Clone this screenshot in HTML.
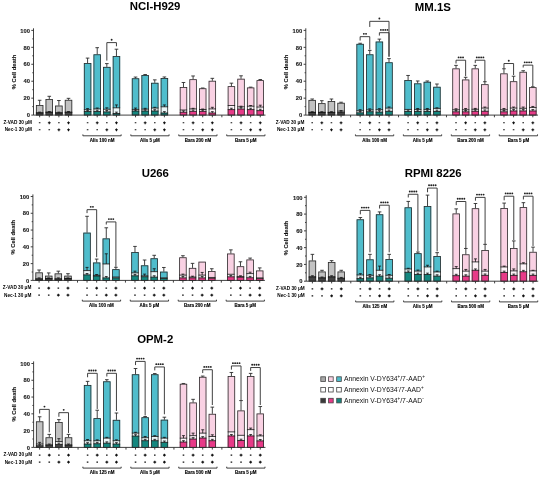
<!DOCTYPE html><html><head><meta charset="utf-8"><style>html,body{margin:0;padding:0;background:#fff;width:550px;height:478px;overflow:hidden}svg{display:block;will-change:transform;filter:blur(0.3px)}text{font-family:"Liberation Sans",sans-serif}</style></head><body>
<svg width="550" height="478" viewBox="0 0 550 478">
<rect width="550" height="478" fill="#fff"/>
<text x="155.1" y="10.37" font-size="11.4" font-weight="bold" text-anchor="middle">NCI-H929</text>
<text transform="translate(15.7,72) rotate(-90)" font-size="5.8" font-weight="bold" fill="#111" stroke="#111" stroke-width="0.1" text-anchor="middle">% Cell death</text>
<text x="29.9" y="117.3" font-size="5.8" font-weight="bold" fill="#1a1a1a" stroke="#1a1a1a" stroke-width="0.12" text-anchor="end">0</text>
<text x="29.9" y="100.36" font-size="5.8" font-weight="bold" fill="#1a1a1a" stroke="#1a1a1a" stroke-width="0.12" text-anchor="end">20</text>
<text x="29.9" y="83.42" font-size="5.8" font-weight="bold" fill="#1a1a1a" stroke="#1a1a1a" stroke-width="0.12" text-anchor="end">40</text>
<text x="29.9" y="66.48" font-size="5.8" font-weight="bold" fill="#1a1a1a" stroke="#1a1a1a" stroke-width="0.12" text-anchor="end">60</text>
<text x="29.9" y="49.54" font-size="5.8" font-weight="bold" fill="#1a1a1a" stroke="#1a1a1a" stroke-width="0.12" text-anchor="end">80</text>
<text x="29.9" y="32.6" font-size="5.8" font-weight="bold" fill="#1a1a1a" stroke="#1a1a1a" stroke-width="0.12" text-anchor="end">100</text>
<rect x="35.95" y="105.11" width="7.4" height="7.62" fill="#c2c2c2"/>
<rect x="35.95" y="112.73" width="7.4" height="0.25" fill="#f2f2f2"/>
<rect x="35.95" y="112.98" width="7.4" height="2.12" fill="#444444"/>
<rect x="36.35" y="105.51" width="6.6" height="9.59" fill="none" stroke="#2b2b2b" stroke-width="0.8"/>
<rect x="45.57" y="99.01" width="7.4" height="13.13" fill="#c2c2c2"/>
<rect x="45.57" y="112.14" width="7.4" height="0.25" fill="#f2f2f2"/>
<rect x="45.57" y="112.39" width="7.4" height="2.71" fill="#444444"/>
<rect x="45.97" y="99.41" width="6.6" height="15.69" fill="none" stroke="#2b2b2b" stroke-width="0.8"/>
<rect x="55.19" y="105.61" width="7.4" height="7.11" fill="#c2c2c2"/>
<rect x="55.19" y="112.73" width="7.4" height="0.25" fill="#f2f2f2"/>
<rect x="55.19" y="112.98" width="7.4" height="2.12" fill="#444444"/>
<rect x="55.59" y="106.01" width="6.6" height="9.09" fill="none" stroke="#2b2b2b" stroke-width="0.8"/>
<rect x="64.81" y="99.85" width="7.4" height="12.28" fill="#c2c2c2"/>
<rect x="64.81" y="112.14" width="7.4" height="0.25" fill="#f2f2f2"/>
<rect x="64.81" y="112.39" width="7.4" height="2.71" fill="#444444"/>
<rect x="65.21" y="100.25" width="6.6" height="14.85" fill="none" stroke="#2b2b2b" stroke-width="0.8"/>
<rect x="83.89" y="63.09" width="7.4" height="46.58" fill="#4fbdcc"/>
<rect x="83.89" y="109.68" width="7.4" height="1.86" fill="#e9f6f8"/>
<rect x="83.89" y="111.54" width="7.4" height="3.56" fill="#14877f"/>
<rect x="84.29" y="63.49" width="6.6" height="51.61" fill="none" stroke="#2b2b2b" stroke-width="0.8"/>
<rect x="93.51" y="54.37" width="7.4" height="54.55" fill="#4fbdcc"/>
<rect x="93.51" y="108.92" width="7.4" height="2.63" fill="#e9f6f8"/>
<rect x="93.51" y="111.54" width="7.4" height="3.56" fill="#14877f"/>
<rect x="93.91" y="54.77" width="6.6" height="60.33" fill="none" stroke="#2b2b2b" stroke-width="0.8"/>
<rect x="103.13" y="66.91" width="7.4" height="42.35" fill="#4fbdcc"/>
<rect x="103.13" y="109.26" width="7.4" height="2.63" fill="#e9f6f8"/>
<rect x="103.13" y="111.88" width="7.4" height="3.22" fill="#14877f"/>
<rect x="103.53" y="67.31" width="6.6" height="47.79" fill="none" stroke="#2b2b2b" stroke-width="0.8"/>
<rect x="112.75" y="56.06" width="7.4" height="51.75" fill="#4fbdcc"/>
<rect x="112.75" y="107.82" width="7.4" height="5.67" fill="#e9f6f8"/>
<rect x="112.75" y="113.49" width="7.4" height="1.61" fill="#14877f"/>
<rect x="113.15" y="56.46" width="6.6" height="58.64" fill="none" stroke="#2b2b2b" stroke-width="0.8"/>
<rect x="131.83" y="78.34" width="7.4" height="31.08" fill="#4fbdcc"/>
<rect x="131.83" y="109.43" width="7.4" height="1.61" fill="#e9f6f8"/>
<rect x="131.83" y="111.03" width="7.4" height="4.07" fill="#14877f"/>
<rect x="132.23" y="78.74" width="6.6" height="36.36" fill="none" stroke="#2b2b2b" stroke-width="0.8"/>
<rect x="141.45" y="75.12" width="7.4" height="34.05" fill="#4fbdcc"/>
<rect x="141.45" y="109.17" width="7.4" height="1.86" fill="#e9f6f8"/>
<rect x="141.45" y="111.03" width="7.4" height="4.07" fill="#14877f"/>
<rect x="141.85" y="75.52" width="6.6" height="39.58" fill="none" stroke="#2b2b2b" stroke-width="0.8"/>
<rect x="151.07" y="82.83" width="7.4" height="25.24" fill="#4fbdcc"/>
<rect x="151.07" y="108.07" width="7.4" height="2.96" fill="#e9f6f8"/>
<rect x="151.07" y="111.03" width="7.4" height="4.07" fill="#14877f"/>
<rect x="151.47" y="83.23" width="6.6" height="31.87" fill="none" stroke="#2b2b2b" stroke-width="0.8"/>
<rect x="160.69" y="78" width="7.4" height="28.8" fill="#4fbdcc"/>
<rect x="160.69" y="106.8" width="7.4" height="6.18" fill="#e9f6f8"/>
<rect x="160.69" y="112.98" width="7.4" height="2.12" fill="#14877f"/>
<rect x="161.09" y="78.4" width="6.6" height="36.7" fill="none" stroke="#2b2b2b" stroke-width="0.8"/>
<rect x="179.77" y="87.06" width="7.4" height="22.95" fill="#f9d1e3"/>
<rect x="179.77" y="110.02" width="7.4" height="2.2" fill="#fdf3f8"/>
<rect x="179.77" y="112.22" width="7.4" height="2.88" fill="#e73a88"/>
<rect x="180.17" y="87.46" width="6.6" height="27.64" fill="none" stroke="#2b2b2b" stroke-width="0.8"/>
<rect x="189.39" y="79.27" width="7.4" height="29.64" fill="#f9d1e3"/>
<rect x="189.39" y="108.92" width="7.4" height="2.46" fill="#fdf3f8"/>
<rect x="189.39" y="111.37" width="7.4" height="3.73" fill="#e73a88"/>
<rect x="189.79" y="79.67" width="6.6" height="35.43" fill="none" stroke="#2b2b2b" stroke-width="0.8"/>
<rect x="199.01" y="88.33" width="7.4" height="21.17" fill="#f9d1e3"/>
<rect x="199.01" y="109.51" width="7.4" height="1.86" fill="#fdf3f8"/>
<rect x="199.01" y="111.37" width="7.4" height="3.73" fill="#e73a88"/>
<rect x="199.41" y="88.73" width="6.6" height="26.37" fill="none" stroke="#2b2b2b" stroke-width="0.8"/>
<rect x="208.63" y="80.8" width="7.4" height="28.12" fill="#f9d1e3"/>
<rect x="208.63" y="108.92" width="7.4" height="4.07" fill="#fdf3f8"/>
<rect x="208.63" y="112.98" width="7.4" height="2.12" fill="#e73a88"/>
<rect x="209.03" y="81.2" width="6.6" height="33.9" fill="none" stroke="#2b2b2b" stroke-width="0.8"/>
<rect x="227.71" y="86.22" width="7.4" height="19.31" fill="#f9d1e3"/>
<rect x="227.71" y="105.53" width="7.4" height="4.07" fill="#fdf3f8"/>
<rect x="227.71" y="109.59" width="7.4" height="5.51" fill="#e73a88"/>
<rect x="228.11" y="86.62" width="6.6" height="28.48" fill="none" stroke="#2b2b2b" stroke-width="0.8"/>
<rect x="237.33" y="78.76" width="7.4" height="28.04" fill="#f9d1e3"/>
<rect x="237.33" y="106.8" width="7.4" height="2.2" fill="#fdf3f8"/>
<rect x="237.33" y="109" width="7.4" height="6.1" fill="#e73a88"/>
<rect x="237.73" y="79.16" width="6.6" height="35.94" fill="none" stroke="#2b2b2b" stroke-width="0.8"/>
<rect x="246.95" y="87.49" width="7.4" height="18.72" fill="#f9d1e3"/>
<rect x="246.95" y="106.21" width="7.4" height="3.39" fill="#fdf3f8"/>
<rect x="246.95" y="109.59" width="7.4" height="5.51" fill="#e73a88"/>
<rect x="247.35" y="87.89" width="6.6" height="27.21" fill="none" stroke="#2b2b2b" stroke-width="0.8"/>
<rect x="256.57" y="80.2" width="7.4" height="26.85" fill="#f9d1e3"/>
<rect x="256.57" y="107.05" width="7.4" height="3.56" fill="#fdf3f8"/>
<rect x="256.57" y="110.61" width="7.4" height="4.49" fill="#e73a88"/>
<rect x="256.97" y="80.6" width="6.6" height="34.5" fill="none" stroke="#2b2b2b" stroke-width="0.8"/>
<text x="32" y="124" font-size="4.7" font-weight="bold" text-anchor="end">Z-VAD 30 μM</text>
<text x="32" y="131.2" font-size="4.7" font-weight="bold" text-anchor="end">Nec-1 30 μM</text>
<text x="102.02" y="141.5" font-size="4.5" font-weight="bold" stroke="#000" stroke-width="0.12" text-anchor="middle">Alis 100 nM</text>
<text x="149.96" y="141.5" font-size="4.5" font-weight="bold" stroke="#000" stroke-width="0.12" text-anchor="middle">Alis 5 μM</text>
<text x="197.9" y="141.5" font-size="4.5" font-weight="bold" stroke="#000" stroke-width="0.12" text-anchor="middle">Bara 200 nM</text>
<text x="245.84" y="141.5" font-size="4.5" font-weight="bold" stroke="#000" stroke-width="0.12" text-anchor="middle">Bara 5 μM</text>
<circle cx="111.64" cy="39.8" r="0.95" fill="#222"/>
<path d="M33.5 28.3V115.1M31.3 115.1H33.5M32.3 106.63H33.5M31.3 98.16H33.5M32.3 89.69H33.5M31.3 81.22H33.5M32.3 72.75H33.5M31.3 64.28H33.5M32.3 55.81H33.5M31.3 47.34H33.5M32.3 38.87H33.5M31.3 30.4H33.5M221.87 115.1V117.3M33.5 115.1H265.47M39.65 105.11V100.28M37.85 100.28H41.45M39.65 115.1V117.3M49.27 99.01V96.3M47.47 96.3H51.07M49.27 115.1V117.3M58.89 105.61V100.53M57.09 100.53H60.69M58.89 115.1V117.3M68.51 99.85V98.33M66.71 98.33H70.31M68.51 115.1V117.3M87.59 63.09V58.1M85.79 58.1H89.39M87.59 115.1V117.3M97.21 54.37V47.68M95.41 47.68H99.01M97.21 115.1V117.3M106.83 66.91V63.6M105.03 63.6H108.63M106.83 115.1V117.3M116.45 56.06V49.2M114.65 49.2H118.25M116.45 115.1V117.3M135.53 78.34V77.07M133.73 77.07H137.33M135.53 115.1V117.3M145.15 75.12V74.53M143.35 74.53H146.95M145.15 115.1V117.3M154.77 82.83V79.86M152.97 79.86H156.57M154.77 115.1V117.3M164.39 78V76.98M162.59 76.98H166.19M164.39 115.1V117.3M183.47 87.06V82.49M181.67 82.49H185.27M183.47 115.1V117.3M193.09 79.27V75.97M191.29 75.97H194.89M193.09 115.1V117.3M202.71 88.33V88M200.91 88H204.51M202.71 115.1V117.3M212.33 80.8V78.34M210.53 78.34H214.13M212.33 115.1V117.3M231.41 86.22V83.17M229.61 83.17H233.21M231.41 115.1V117.3M241.03 78.76V75.8M239.23 75.8H242.83M241.03 115.1V117.3M250.65 87.49V87.15M248.85 87.15H252.45M250.65 115.1V117.3M260.27 80.2V79.53M258.47 79.53H262.07M260.27 115.1V117.3M82.89 134.4V135.8H121.15V134.4M130.83 134.4V135.8H169.09V134.4M178.77 134.4V135.8H217.03V134.4M226.71 134.4V135.8H264.97V134.4M106.83 60.64V42.6H116.45V46.32" stroke="#2b2b2b" stroke-width="0.9" fill="none"/>
<path d="M35.95 112.73H43.35M35.95 112.98H43.35M39.65 112.73V112.14M38.15 112.14H41.15M45.57 112.14H52.97M45.57 112.39H52.97M49.27 112.14V111.54M47.77 111.54H50.77M55.19 112.73H62.59M55.19 112.98H62.59M58.89 112.73V112.14M57.39 112.14H60.39M64.81 112.14H72.21M64.81 112.39H72.21M68.51 112.14V111.54M67.01 111.54H70.01M83.89 109.68H91.29M83.89 111.54H91.29M87.59 111.54V110.36M86.19 110.36H88.99M87.59 109.68V108.58M86.09 108.58H89.09M93.51 108.92H100.91M93.51 111.54H100.91M97.21 111.54V110.19M95.81 110.19H98.61M97.21 108.92V107.99M95.71 107.99H98.71M103.13 109.26H110.53M103.13 111.88H110.53M106.83 111.88V110.53M105.43 110.53H108.23M106.83 109.26V107.82M105.33 107.82H108.33M112.75 107.82H120.15M112.75 113.49H120.15M116.45 113.49V112.14M115.05 112.14H117.85M116.45 107.82V104.94M114.95 104.94H117.95M131.83 109.43H139.23M131.83 111.03H139.23M135.53 111.03V110.1M134.13 110.1H136.93M135.53 109.43V108.07M134.03 108.07H137.03M141.45 109.17H148.85M141.45 111.03H148.85M145.15 111.03V109.85M143.75 109.85H146.55M145.15 109.17V108.32M143.65 108.32H146.65M151.07 108.07H158.47M151.07 111.03H158.47M154.77 111.03V109.68M153.37 109.68H156.17M154.77 108.07V107.31M153.27 107.31H156.27M160.69 106.8H168.09M160.69 112.98H168.09M164.39 112.98V111.63M162.99 111.63H165.79M164.39 106.8V104.94M162.89 104.94H165.89M179.77 110.02H187.17M179.77 112.22H187.17M183.47 112.22V110.86M182.07 110.86H184.87M189.39 108.92H196.79M189.39 111.37H196.79M193.09 111.37V110.02M191.69 110.02H194.49M193.09 108.92V108.32M191.59 108.32H194.59M199.01 109.51H206.41M199.01 111.37H206.41M202.71 111.37V110.19M201.31 110.19H204.11M202.71 109.51V109M201.21 109H204.21M208.63 108.92H216.03M208.63 112.98H216.03M212.33 112.98V111.63M210.93 111.63H213.73M212.33 108.92V107.31M210.83 107.31H213.83M227.71 105.53H235.11M227.71 109.59H235.11M231.41 109.59V108.24M230.01 108.24H232.81M237.33 106.8H244.73M237.33 109H244.73M241.03 109V107.65M239.63 107.65H242.43M241.03 106.8V106.21M239.53 106.21H242.53M246.95 106.21H254.35M246.95 109.59H254.35M250.65 109.59V108.24M249.25 108.24H252.05M250.65 106.21V105.53M249.15 105.53H252.15M256.57 107.05H263.97M256.57 110.61H263.97M260.27 110.61V109.26M258.87 109.26H261.67M260.27 107.05V105.19M258.77 105.19H261.77" stroke="#111" stroke-width="0.8" fill="none"/>
<path d="M38.85 122.8H40.45M38.85 129.8H40.45M47.87 122.8H50.67M49.27 121.4V124.2M48.47 129.8H50.07M58.09 122.8H59.69M57.49 129.8H60.29M58.89 128.4V131.2M67.11 122.8H69.91M68.51 121.4V124.2M67.11 129.8H69.91M68.51 128.4V131.2M86.79 122.8H88.39M86.79 129.8H88.39M95.81 122.8H98.61M97.21 121.4V124.2M96.41 129.8H98.01M106.03 122.8H107.63M105.43 129.8H108.23M106.83 128.4V131.2M115.05 122.8H117.85M116.45 121.4V124.2M115.05 129.8H117.85M116.45 128.4V131.2M134.73 122.8H136.33M134.73 129.8H136.33M143.75 122.8H146.55M145.15 121.4V124.2M144.35 129.8H145.95M153.97 122.8H155.57M153.37 129.8H156.17M154.77 128.4V131.2M162.99 122.8H165.79M164.39 121.4V124.2M162.99 129.8H165.79M164.39 128.4V131.2M182.67 122.8H184.27M182.67 129.8H184.27M191.69 122.8H194.49M193.09 121.4V124.2M192.29 129.8H193.89M201.91 122.8H203.51M201.31 129.8H204.11M202.71 128.4V131.2M210.93 122.8H213.73M212.33 121.4V124.2M210.93 129.8H213.73M212.33 128.4V131.2M230.61 122.8H232.21M230.61 129.8H232.21M239.63 122.8H242.43M241.03 121.4V124.2M240.23 129.8H241.83M249.85 122.8H251.45M249.25 129.8H252.05M250.65 128.4V131.2M258.87 122.8H261.67M260.27 121.4V124.2M258.87 129.8H261.67M260.27 128.4V131.2" stroke="#111" stroke-width="1.1" fill="none"/>
<text x="432.9" y="10.57" font-size="11.4" font-weight="bold" text-anchor="middle">MM.1S</text>
<text transform="translate(288,72) rotate(-90)" font-size="5.8" font-weight="bold" fill="#111" stroke="#111" stroke-width="0.1" text-anchor="middle">% Cell death</text>
<text x="302.2" y="117.3" font-size="5.8" font-weight="bold" fill="#1a1a1a" stroke="#1a1a1a" stroke-width="0.12" text-anchor="end">0</text>
<text x="302.2" y="100.36" font-size="5.8" font-weight="bold" fill="#1a1a1a" stroke="#1a1a1a" stroke-width="0.12" text-anchor="end">20</text>
<text x="302.2" y="83.42" font-size="5.8" font-weight="bold" fill="#1a1a1a" stroke="#1a1a1a" stroke-width="0.12" text-anchor="end">40</text>
<text x="302.2" y="66.48" font-size="5.8" font-weight="bold" fill="#1a1a1a" stroke="#1a1a1a" stroke-width="0.12" text-anchor="end">60</text>
<text x="302.2" y="49.54" font-size="5.8" font-weight="bold" fill="#1a1a1a" stroke="#1a1a1a" stroke-width="0.12" text-anchor="end">80</text>
<text x="302.2" y="32.6" font-size="5.8" font-weight="bold" fill="#1a1a1a" stroke="#1a1a1a" stroke-width="0.12" text-anchor="end">100</text>
<rect x="308.5" y="99.94" width="7.4" height="12.37" fill="#c2c2c2"/>
<rect x="308.5" y="112.3" width="7.4" height="0.25" fill="#f2f2f2"/>
<rect x="308.5" y="112.56" width="7.4" height="2.54" fill="#444444"/>
<rect x="308.9" y="100.34" width="6.6" height="14.76" fill="none" stroke="#2b2b2b" stroke-width="0.8"/>
<rect x="318.12" y="103.24" width="7.4" height="9.06" fill="#c2c2c2"/>
<rect x="318.12" y="112.3" width="7.4" height="0.25" fill="#f2f2f2"/>
<rect x="318.12" y="112.56" width="7.4" height="2.54" fill="#444444"/>
<rect x="318.52" y="103.64" width="6.6" height="11.46" fill="none" stroke="#2b2b2b" stroke-width="0.8"/>
<rect x="327.74" y="101.12" width="7.4" height="11.18" fill="#c2c2c2"/>
<rect x="327.74" y="112.3" width="7.4" height="0.25" fill="#f2f2f2"/>
<rect x="327.74" y="112.56" width="7.4" height="2.54" fill="#444444"/>
<rect x="328.14" y="101.52" width="6.6" height="13.58" fill="none" stroke="#2b2b2b" stroke-width="0.8"/>
<rect x="337.36" y="102.82" width="7.4" height="8.39" fill="#c2c2c2"/>
<rect x="337.36" y="111.2" width="7.4" height="1.36" fill="#f2f2f2"/>
<rect x="337.36" y="112.56" width="7.4" height="2.54" fill="#444444"/>
<rect x="337.76" y="103.22" width="6.6" height="11.88" fill="none" stroke="#2b2b2b" stroke-width="0.8"/>
<rect x="356.44" y="43.87" width="7.4" height="66.83" fill="#4fbdcc"/>
<rect x="356.44" y="110.7" width="7.4" height="2.12" fill="#e9f6f8"/>
<rect x="356.44" y="112.81" width="7.4" height="2.29" fill="#14877f"/>
<rect x="356.84" y="44.27" width="6.6" height="70.83" fill="none" stroke="#2b2b2b" stroke-width="0.8"/>
<rect x="366.06" y="54.37" width="7.4" height="55.48" fill="#4fbdcc"/>
<rect x="366.06" y="109.85" width="7.4" height="1.86" fill="#e9f6f8"/>
<rect x="366.06" y="111.71" width="7.4" height="3.39" fill="#14877f"/>
<rect x="366.46" y="54.77" width="6.6" height="60.33" fill="none" stroke="#2b2b2b" stroke-width="0.8"/>
<rect x="375.68" y="41.58" width="7.4" height="68.1" fill="#4fbdcc"/>
<rect x="375.68" y="109.68" width="7.4" height="2.37" fill="#e9f6f8"/>
<rect x="375.68" y="112.05" width="7.4" height="3.05" fill="#14877f"/>
<rect x="376.08" y="41.98" width="6.6" height="73.12" fill="none" stroke="#2b2b2b" stroke-width="0.8"/>
<rect x="385.3" y="62.33" width="7.4" height="45.82" fill="#4fbdcc"/>
<rect x="385.3" y="108.15" width="7.4" height="3.22" fill="#e9f6f8"/>
<rect x="385.3" y="111.37" width="7.4" height="3.73" fill="#14877f"/>
<rect x="385.7" y="62.73" width="6.6" height="52.37" fill="none" stroke="#2b2b2b" stroke-width="0.8"/>
<rect x="404.38" y="80.12" width="7.4" height="29.31" fill="#4fbdcc"/>
<rect x="404.38" y="109.43" width="7.4" height="2.03" fill="#e9f6f8"/>
<rect x="404.38" y="111.46" width="7.4" height="3.64" fill="#14877f"/>
<rect x="404.78" y="80.52" width="6.6" height="34.58" fill="none" stroke="#2b2b2b" stroke-width="0.8"/>
<rect x="414" y="83.42" width="7.4" height="26" fill="#4fbdcc"/>
<rect x="414" y="109.43" width="7.4" height="2.03" fill="#e9f6f8"/>
<rect x="414" y="111.46" width="7.4" height="3.64" fill="#14877f"/>
<rect x="414.4" y="83.82" width="6.6" height="31.28" fill="none" stroke="#2b2b2b" stroke-width="0.8"/>
<rect x="423.62" y="81.81" width="7.4" height="27.61" fill="#4fbdcc"/>
<rect x="423.62" y="109.43" width="7.4" height="2.03" fill="#e9f6f8"/>
<rect x="423.62" y="111.46" width="7.4" height="3.64" fill="#14877f"/>
<rect x="424.02" y="82.21" width="6.6" height="32.89" fill="none" stroke="#2b2b2b" stroke-width="0.8"/>
<rect x="433.24" y="86.81" width="7.4" height="21.6" fill="#4fbdcc"/>
<rect x="433.24" y="108.41" width="7.4" height="3.05" fill="#e9f6f8"/>
<rect x="433.24" y="111.46" width="7.4" height="3.64" fill="#14877f"/>
<rect x="433.64" y="87.21" width="6.6" height="27.89" fill="none" stroke="#2b2b2b" stroke-width="0.8"/>
<rect x="452.32" y="68.43" width="7.4" height="41.33" fill="#f9d1e3"/>
<rect x="452.32" y="109.76" width="7.4" height="2.03" fill="#fdf3f8"/>
<rect x="452.32" y="111.8" width="7.4" height="3.3" fill="#e73a88"/>
<rect x="452.72" y="68.83" width="6.6" height="46.27" fill="none" stroke="#2b2b2b" stroke-width="0.8"/>
<rect x="461.94" y="79.53" width="7.4" height="30.24" fill="#f9d1e3"/>
<rect x="461.94" y="109.76" width="7.4" height="2.03" fill="#fdf3f8"/>
<rect x="461.94" y="111.8" width="7.4" height="3.3" fill="#e73a88"/>
<rect x="462.34" y="79.93" width="6.6" height="35.17" fill="none" stroke="#2b2b2b" stroke-width="0.8"/>
<rect x="471.56" y="68.43" width="7.4" height="40.83" fill="#f9d1e3"/>
<rect x="471.56" y="109.26" width="7.4" height="2.03" fill="#fdf3f8"/>
<rect x="471.56" y="111.29" width="7.4" height="3.81" fill="#e73a88"/>
<rect x="471.96" y="68.83" width="6.6" height="46.27" fill="none" stroke="#2b2b2b" stroke-width="0.8"/>
<rect x="481.18" y="84.27" width="7.4" height="23.8" fill="#f9d1e3"/>
<rect x="481.18" y="108.07" width="7.4" height="3.22" fill="#fdf3f8"/>
<rect x="481.18" y="111.29" width="7.4" height="3.81" fill="#e73a88"/>
<rect x="481.58" y="84.67" width="6.6" height="30.43" fill="none" stroke="#2b2b2b" stroke-width="0.8"/>
<rect x="500.26" y="73.43" width="7.4" height="36.34" fill="#f9d1e3"/>
<rect x="500.26" y="109.76" width="7.4" height="2.03" fill="#fdf3f8"/>
<rect x="500.26" y="111.8" width="7.4" height="3.3" fill="#e73a88"/>
<rect x="500.66" y="73.83" width="6.6" height="41.27" fill="none" stroke="#2b2b2b" stroke-width="0.8"/>
<rect x="509.88" y="81.3" width="7.4" height="26.77" fill="#f9d1e3"/>
<rect x="509.88" y="108.07" width="7.4" height="2.88" fill="#fdf3f8"/>
<rect x="509.88" y="110.95" width="7.4" height="4.15" fill="#e73a88"/>
<rect x="510.28" y="81.7" width="6.6" height="33.4" fill="none" stroke="#2b2b2b" stroke-width="0.8"/>
<rect x="519.5" y="71.82" width="7.4" height="36.51" fill="#f9d1e3"/>
<rect x="519.5" y="108.32" width="7.4" height="2.63" fill="#fdf3f8"/>
<rect x="519.5" y="110.95" width="7.4" height="4.15" fill="#e73a88"/>
<rect x="519.9" y="72.22" width="6.6" height="42.88" fill="none" stroke="#2b2b2b" stroke-width="0.8"/>
<rect x="529.12" y="87.23" width="7.4" height="20.33" fill="#f9d1e3"/>
<rect x="529.12" y="107.56" width="7.4" height="3.39" fill="#fdf3f8"/>
<rect x="529.12" y="110.95" width="7.4" height="4.15" fill="#e73a88"/>
<rect x="529.52" y="87.63" width="6.6" height="27.47" fill="none" stroke="#2b2b2b" stroke-width="0.8"/>
<text x="304.3" y="124" font-size="4.7" font-weight="bold" text-anchor="end">Z-VAD 30 μM</text>
<text x="304.3" y="131.2" font-size="4.7" font-weight="bold" text-anchor="end">Nec-1 30 μM</text>
<text x="374.57" y="141.5" font-size="4.5" font-weight="bold" stroke="#000" stroke-width="0.12" text-anchor="middle">Alis 100 nM</text>
<text x="422.51" y="141.5" font-size="4.5" font-weight="bold" stroke="#000" stroke-width="0.12" text-anchor="middle">Alis 5 μM</text>
<text x="470.45" y="141.5" font-size="4.5" font-weight="bold" stroke="#000" stroke-width="0.12" text-anchor="middle">Bara 200 nM</text>
<text x="518.39" y="141.5" font-size="4.5" font-weight="bold" stroke="#000" stroke-width="0.12" text-anchor="middle">Bara 5 μM</text>
<circle cx="363.85" cy="33.87" r="0.95" fill="#222"/>
<circle cx="366.05" cy="33.87" r="0.95" fill="#222"/>
<circle cx="379.38" cy="18.54" r="0.95" fill="#222"/>
<circle cx="380.89" cy="29.89" r="0.95" fill="#222"/>
<circle cx="383.09" cy="29.89" r="0.95" fill="#222"/>
<circle cx="385.29" cy="29.89" r="0.95" fill="#222"/>
<circle cx="387.49" cy="29.89" r="0.95" fill="#222"/>
<circle cx="458.63" cy="57.41" r="0.95" fill="#222"/>
<circle cx="460.83" cy="57.41" r="0.95" fill="#222"/>
<circle cx="463.03" cy="57.41" r="0.95" fill="#222"/>
<circle cx="476.77" cy="57.41" r="0.95" fill="#222"/>
<circle cx="478.97" cy="57.41" r="0.95" fill="#222"/>
<circle cx="481.17" cy="57.41" r="0.95" fill="#222"/>
<circle cx="483.37" cy="57.41" r="0.95" fill="#222"/>
<circle cx="508.77" cy="60.72" r="0.95" fill="#222"/>
<circle cx="524.71" cy="62.33" r="0.95" fill="#222"/>
<circle cx="526.91" cy="62.33" r="0.95" fill="#222"/>
<circle cx="529.11" cy="62.33" r="0.95" fill="#222"/>
<circle cx="531.31" cy="62.33" r="0.95" fill="#222"/>
<path d="M305.8 28.3V115.1M303.6 115.1H305.8M304.6 106.63H305.8M303.6 98.16H305.8M304.6 89.69H305.8M303.6 81.22H305.8M304.6 72.75H305.8M303.6 64.28H305.8M304.6 55.81H305.8M303.6 47.34H305.8M304.6 38.87H305.8M303.6 30.4H305.8M350.6 115.1V117.3M398.54 115.1V117.3M446.48 115.1V117.3M494.42 115.1V117.3M305.8 115.1H538.02M312.2 99.94V99.01M310.4 99.01H314M312.2 115.1V117.3M321.82 103.24V100.7M320.02 100.7H323.62M321.82 115.1V117.3M331.44 101.12V99.01M329.64 99.01H333.24M331.44 115.1V117.3M341.06 102.82V102.23M339.26 102.23H342.86M341.06 115.1V117.3M360.14 43.87V43.27M358.34 43.27H361.94M360.14 115.1V117.3M369.76 54.37V50.39M367.96 50.39H371.56M369.76 115.1V117.3M379.38 41.58V39.12M377.58 39.12H381.18M379.38 115.1V117.3M389 62.33V58.61M387.2 58.61H390.8M389 115.1V117.3M408.08 80.12V75.46M406.28 75.46H409.88M408.08 115.1V117.3M417.7 83.42V80.97M415.9 80.97H419.5M417.7 115.1V117.3M427.32 81.81V80.97M425.52 80.97H429.12M427.32 115.1V117.3M436.94 86.81V84.02M435.14 84.02H438.74M436.94 115.1V117.3M456.02 68.43V65.38M454.22 65.38H457.82M456.02 115.1V117.3M465.64 79.53V77.32M463.84 77.32H467.44M465.64 115.1V117.3M475.26 68.43V65.38M473.46 65.38H477.06M475.26 115.1V117.3M484.88 84.27V81.73M483.08 81.73H486.68M484.88 115.1V117.3M503.96 73.43V68.77M502.16 68.77H505.76M503.96 115.1V117.3M513.58 81.3V76.22M511.78 76.22H515.38M513.58 115.1V117.3M523.2 71.82V70.72M521.4 70.72H525M523.2 115.1V117.3M532.82 87.23V86.81M531.02 86.81H534.62M532.82 115.1V117.3M355.44 134.4V135.8H393.7V134.4M403.38 134.4V135.8H441.64V134.4M451.32 134.4V135.8H489.58V134.4M499.26 134.4V135.8H537.52V134.4M360.14 40.56V36.67H369.76V49.54M369.76 26.93V21.34H389V56.66M379.38 35.57V32.69H389V56.66M456.02 63.52V60.21H465.64V76.22M475.26 63.09V60.21H484.88V81.73M503.96 68.43V63.52H513.58V75.04M523.2 67.5V65.13H532.82V86.47" stroke="#2b2b2b" stroke-width="0.9" fill="none"/>
<path d="M308.5 112.3H315.9M308.5 112.56H315.9M312.2 112.3V111.71M310.7 111.71H313.7M318.12 112.3H325.52M318.12 112.56H325.52M321.82 112.3V111.71M320.32 111.71H323.32M327.74 112.3H335.14M327.74 112.56H335.14M331.44 112.3V111.71M329.94 111.71H332.94M337.36 111.2H344.76M337.36 112.56H344.76M341.06 112.56V111.88M339.66 111.88H342.46M341.06 111.2V110.53M339.56 110.53H342.56M356.44 110.7H363.84M356.44 112.81H363.84M360.14 112.81V111.46M358.74 111.46H361.54M360.14 110.7V109.68M358.64 109.68H361.64M366.06 109.85H373.46M366.06 111.71H373.46M369.76 111.71V110.53M368.36 110.53H371.16M369.76 109.85V108.83M368.26 108.83H371.26M375.68 109.68H383.08M375.68 112.05H383.08M379.38 112.05V110.7M377.98 110.7H380.78M379.38 109.68V108.66M377.88 108.66H380.88M385.3 108.15H392.7M385.3 111.37H392.7M389 111.37V110.02M387.6 110.02H390.4M389 108.15V106.97M387.5 106.97H390.5M404.38 109.43H411.78M404.38 111.46H411.78M408.08 111.46V110.1M406.68 110.1H409.48M414 109.43H421.4M414 111.46H421.4M417.7 111.46V110.1M416.3 110.1H419.1M417.7 109.43V108.49M416.2 108.49H419.2M423.62 109.43H431.02M423.62 111.46H431.02M427.32 111.46V110.1M425.92 110.1H428.72M427.32 109.43V108.49M425.82 108.49H428.82M433.24 108.41H440.64M433.24 111.46H440.64M436.94 111.46V110.1M435.54 110.1H438.34M436.94 108.41V107.82M435.44 107.82H438.44M452.32 109.76H459.72M452.32 111.8H459.72M456.02 111.8V110.44M454.62 110.44H457.42M456.02 109.76V108.75M454.52 108.75H457.52M461.94 109.76H469.34M461.94 111.8H469.34M465.64 111.8V110.44M464.24 110.44H467.04M465.64 109.76V108.49M464.14 108.49H467.14M471.56 109.26H478.96M471.56 111.29H478.96M475.26 111.29V109.93M473.86 109.93H476.66M475.26 109.26V108.41M473.76 108.41H476.76M481.18 108.07H488.58M481.18 111.29H488.58M484.88 111.29V109.93M483.48 109.93H486.28M484.88 108.07V107.05M483.38 107.05H486.38M500.26 109.76H507.66M500.26 111.8H507.66M503.96 111.8V110.44M502.56 110.44H505.36M503.96 109.76V108.49M502.46 108.49H505.46M509.88 108.07H517.28M509.88 110.95H517.28M513.58 110.95V109.59M512.18 109.59H514.98M513.58 108.07V107.05M512.08 107.05H515.08M519.5 108.32H526.9M519.5 110.95H526.9M523.2 110.95V109.59M521.8 109.59H524.6M523.2 108.32V107.05M521.7 107.05H524.7M529.12 107.56H536.52M529.12 110.95H536.52M532.82 110.95V109.59M531.42 109.59H534.22M532.82 107.56V106.46M531.32 106.46H534.32" stroke="#111" stroke-width="0.8" fill="none"/>
<path d="M311.4 122.8H313M311.4 129.8H313M320.42 122.8H323.22M321.82 121.4V124.2M321.02 129.8H322.62M330.64 122.8H332.24M330.04 129.8H332.84M331.44 128.4V131.2M339.66 122.8H342.46M341.06 121.4V124.2M339.66 129.8H342.46M341.06 128.4V131.2M359.34 122.8H360.94M359.34 129.8H360.94M368.36 122.8H371.16M369.76 121.4V124.2M368.96 129.8H370.56M378.58 122.8H380.18M377.98 129.8H380.78M379.38 128.4V131.2M387.6 122.8H390.4M389 121.4V124.2M387.6 129.8H390.4M389 128.4V131.2M407.28 122.8H408.88M407.28 129.8H408.88M416.3 122.8H419.1M417.7 121.4V124.2M416.9 129.8H418.5M426.52 122.8H428.12M425.92 129.8H428.72M427.32 128.4V131.2M435.54 122.8H438.34M436.94 121.4V124.2M435.54 129.8H438.34M436.94 128.4V131.2M455.22 122.8H456.82M455.22 129.8H456.82M464.24 122.8H467.04M465.64 121.4V124.2M464.84 129.8H466.44M474.46 122.8H476.06M473.86 129.8H476.66M475.26 128.4V131.2M483.48 122.8H486.28M484.88 121.4V124.2M483.48 129.8H486.28M484.88 128.4V131.2M503.16 122.8H504.76M503.16 129.8H504.76M512.18 122.8H514.98M513.58 121.4V124.2M512.78 129.8H514.38M522.4 122.8H524M521.8 129.8H524.6M523.2 128.4V131.2M531.42 122.8H534.22M532.82 121.4V124.2M531.42 129.8H534.22M532.82 128.4V131.2" stroke="#111" stroke-width="1.1" fill="none"/>
<text x="155.3" y="176.67" font-size="11.4" font-weight="bold" text-anchor="middle">U266</text>
<text transform="translate(15.1,237.3) rotate(-90)" font-size="5.8" font-weight="bold" fill="#111" stroke="#111" stroke-width="0.1" text-anchor="middle">% Cell death</text>
<text x="29.3" y="282.6" font-size="5.8" font-weight="bold" fill="#1a1a1a" stroke="#1a1a1a" stroke-width="0.12" text-anchor="end">0</text>
<text x="29.3" y="265.82" font-size="5.8" font-weight="bold" fill="#1a1a1a" stroke="#1a1a1a" stroke-width="0.12" text-anchor="end">20</text>
<text x="29.3" y="249.04" font-size="5.8" font-weight="bold" fill="#1a1a1a" stroke="#1a1a1a" stroke-width="0.12" text-anchor="end">40</text>
<text x="29.3" y="232.26" font-size="5.8" font-weight="bold" fill="#1a1a1a" stroke="#1a1a1a" stroke-width="0.12" text-anchor="end">60</text>
<text x="29.3" y="215.48" font-size="5.8" font-weight="bold" fill="#1a1a1a" stroke="#1a1a1a" stroke-width="0.12" text-anchor="end">80</text>
<text x="29.3" y="198.7" font-size="5.8" font-weight="bold" fill="#1a1a1a" stroke="#1a1a1a" stroke-width="0.12" text-anchor="end">100</text>
<rect x="35.4" y="272.43" width="7.4" height="6.29" fill="#c2c2c2"/>
<rect x="35.4" y="278.72" width="7.4" height="0.42" fill="#f2f2f2"/>
<rect x="35.4" y="279.14" width="7.4" height="1.26" fill="#444444"/>
<rect x="35.8" y="272.83" width="6.6" height="7.57" fill="none" stroke="#2b2b2b" stroke-width="0.8"/>
<rect x="45.02" y="275.7" width="7.4" height="2.77" fill="#c2c2c2"/>
<rect x="45.02" y="278.47" width="7.4" height="0.25" fill="#f2f2f2"/>
<rect x="45.02" y="278.72" width="7.4" height="1.68" fill="#444444"/>
<rect x="45.42" y="276.1" width="6.6" height="4.3" fill="none" stroke="#2b2b2b" stroke-width="0.8"/>
<rect x="54.64" y="273.44" width="7.4" height="5.29" fill="#c2c2c2"/>
<rect x="54.64" y="278.72" width="7.4" height="0.42" fill="#f2f2f2"/>
<rect x="54.64" y="279.14" width="7.4" height="1.26" fill="#444444"/>
<rect x="55.04" y="273.84" width="6.6" height="6.56" fill="none" stroke="#2b2b2b" stroke-width="0.8"/>
<rect x="64.26" y="275.7" width="7.4" height="2.77" fill="#c2c2c2"/>
<rect x="64.26" y="278.47" width="7.4" height="0.25" fill="#f2f2f2"/>
<rect x="64.26" y="278.72" width="7.4" height="1.68" fill="#444444"/>
<rect x="64.66" y="276.1" width="6.6" height="4.3" fill="none" stroke="#2b2b2b" stroke-width="0.8"/>
<rect x="83.34" y="232.66" width="7.4" height="37.92" fill="#4fbdcc"/>
<rect x="83.34" y="270.58" width="7.4" height="4.28" fill="#e9f6f8"/>
<rect x="83.34" y="274.86" width="7.4" height="5.54" fill="#14877f"/>
<rect x="83.74" y="233.06" width="6.6" height="47.34" fill="none" stroke="#2b2b2b" stroke-width="0.8"/>
<rect x="92.96" y="262.53" width="7.4" height="12.84" fill="#4fbdcc"/>
<rect x="92.96" y="275.37" width="7.4" height="0.67" fill="#e9f6f8"/>
<rect x="92.96" y="276.04" width="7.4" height="4.36" fill="#14877f"/>
<rect x="93.36" y="262.93" width="6.6" height="17.47" fill="none" stroke="#2b2b2b" stroke-width="0.8"/>
<rect x="102.58" y="238.45" width="7.4" height="25.51" fill="#4fbdcc"/>
<rect x="102.58" y="263.96" width="7.4" height="13.93" fill="#e9f6f8"/>
<rect x="102.58" y="277.88" width="7.4" height="2.52" fill="#14877f"/>
<rect x="102.98" y="238.85" width="6.6" height="41.55" fill="none" stroke="#2b2b2b" stroke-width="0.8"/>
<rect x="112.2" y="269.24" width="7.4" height="7.8" fill="#4fbdcc"/>
<rect x="112.2" y="277.04" width="7.4" height="0.84" fill="#e9f6f8"/>
<rect x="112.2" y="277.88" width="7.4" height="2.52" fill="#14877f"/>
<rect x="112.6" y="269.64" width="6.6" height="10.76" fill="none" stroke="#2b2b2b" stroke-width="0.8"/>
<rect x="131.28" y="252.13" width="7.4" height="20.72" fill="#4fbdcc"/>
<rect x="131.28" y="272.85" width="7.4" height="2.94" fill="#e9f6f8"/>
<rect x="131.28" y="275.79" width="7.4" height="4.61" fill="#14877f"/>
<rect x="131.68" y="252.53" width="6.6" height="27.87" fill="none" stroke="#2b2b2b" stroke-width="0.8"/>
<rect x="140.9" y="265.38" width="7.4" height="10.4" fill="#4fbdcc"/>
<rect x="140.9" y="275.79" width="7.4" height="0.92" fill="#e9f6f8"/>
<rect x="140.9" y="276.71" width="7.4" height="3.69" fill="#14877f"/>
<rect x="141.3" y="265.78" width="6.6" height="14.62" fill="none" stroke="#2b2b2b" stroke-width="0.8"/>
<rect x="150.52" y="258.33" width="7.4" height="13.34" fill="#4fbdcc"/>
<rect x="150.52" y="271.67" width="7.4" height="5.45" fill="#e9f6f8"/>
<rect x="150.52" y="277.13" width="7.4" height="3.27" fill="#14877f"/>
<rect x="150.92" y="258.73" width="6.6" height="21.67" fill="none" stroke="#2b2b2b" stroke-width="0.8"/>
<rect x="160.14" y="271.67" width="7.4" height="6.21" fill="#4fbdcc"/>
<rect x="160.14" y="277.88" width="7.4" height="0.5" fill="#e9f6f8"/>
<rect x="160.14" y="278.39" width="7.4" height="2.01" fill="#14877f"/>
<rect x="160.54" y="272.07" width="6.6" height="8.33" fill="none" stroke="#2b2b2b" stroke-width="0.8"/>
<rect x="179.22" y="257.33" width="7.4" height="17.79" fill="#f9d1e3"/>
<rect x="179.22" y="275.11" width="7.4" height="2.77" fill="#fdf3f8"/>
<rect x="179.22" y="277.88" width="7.4" height="2.52" fill="#e73a88"/>
<rect x="179.62" y="257.73" width="6.6" height="22.67" fill="none" stroke="#2b2b2b" stroke-width="0.8"/>
<rect x="188.84" y="267.9" width="7.4" height="9.15" fill="#f9d1e3"/>
<rect x="188.84" y="277.04" width="7.4" height="0.84" fill="#fdf3f8"/>
<rect x="188.84" y="277.88" width="7.4" height="2.52" fill="#e73a88"/>
<rect x="189.24" y="268.3" width="6.6" height="12.1" fill="none" stroke="#2b2b2b" stroke-width="0.8"/>
<rect x="198.46" y="261.69" width="7.4" height="13.42" fill="#f9d1e3"/>
<rect x="198.46" y="275.11" width="7.4" height="2.77" fill="#fdf3f8"/>
<rect x="198.46" y="277.88" width="7.4" height="2.52" fill="#e73a88"/>
<rect x="198.86" y="262.09" width="6.6" height="18.31" fill="none" stroke="#2b2b2b" stroke-width="0.8"/>
<rect x="208.08" y="271.17" width="7.4" height="6.29" fill="#f9d1e3"/>
<rect x="208.08" y="277.46" width="7.4" height="0.84" fill="#fdf3f8"/>
<rect x="208.08" y="278.3" width="7.4" height="2.1" fill="#e73a88"/>
<rect x="208.48" y="271.57" width="6.6" height="8.83" fill="none" stroke="#2b2b2b" stroke-width="0.8"/>
<rect x="227.16" y="253.55" width="7.4" height="20.72" fill="#f9d1e3"/>
<rect x="227.16" y="274.28" width="7.4" height="2.52" fill="#fdf3f8"/>
<rect x="227.16" y="276.79" width="7.4" height="3.61" fill="#e73a88"/>
<rect x="227.56" y="253.95" width="6.6" height="26.45" fill="none" stroke="#2b2b2b" stroke-width="0.8"/>
<rect x="236.78" y="266.3" width="7.4" height="10.32" fill="#f9d1e3"/>
<rect x="236.78" y="276.62" width="7.4" height="0.59" fill="#fdf3f8"/>
<rect x="236.78" y="277.21" width="7.4" height="3.19" fill="#e73a88"/>
<rect x="237.18" y="266.7" width="6.6" height="13.7" fill="none" stroke="#2b2b2b" stroke-width="0.8"/>
<rect x="246.4" y="259.51" width="7.4" height="14.1" fill="#f9d1e3"/>
<rect x="246.4" y="273.6" width="7.4" height="4.11" fill="#fdf3f8"/>
<rect x="246.4" y="277.72" width="7.4" height="2.68" fill="#e73a88"/>
<rect x="246.8" y="259.91" width="6.6" height="20.49" fill="none" stroke="#2b2b2b" stroke-width="0.8"/>
<rect x="256.02" y="270.5" width="7.4" height="7.38" fill="#f9d1e3"/>
<rect x="256.02" y="277.88" width="7.4" height="0.76" fill="#fdf3f8"/>
<rect x="256.02" y="278.64" width="7.4" height="1.76" fill="#e73a88"/>
<rect x="256.42" y="270.9" width="6.6" height="9.5" fill="none" stroke="#2b2b2b" stroke-width="0.8"/>
<text x="31.4" y="289.3" font-size="4.7" font-weight="bold" text-anchor="end">Z-VAD 30 μM</text>
<text x="31.4" y="296.5" font-size="4.7" font-weight="bold" text-anchor="end">Nec-1 30 μM</text>
<text x="101.47" y="306.8" font-size="4.5" font-weight="bold" stroke="#000" stroke-width="0.12" text-anchor="middle">Alis 100 nM</text>
<text x="149.41" y="306.8" font-size="4.5" font-weight="bold" stroke="#000" stroke-width="0.12" text-anchor="middle">Alis 5 μM</text>
<text x="197.35" y="306.8" font-size="4.5" font-weight="bold" stroke="#000" stroke-width="0.12" text-anchor="middle">Bara 200 nM</text>
<text x="245.29" y="306.8" font-size="4.5" font-weight="bold" stroke="#000" stroke-width="0.12" text-anchor="middle">Bara 5 μM</text>
<circle cx="90.75" cy="206.87" r="0.95" fill="#222"/>
<circle cx="92.95" cy="206.87" r="0.95" fill="#222"/>
<circle cx="108.89" cy="219.12" r="0.95" fill="#222"/>
<circle cx="111.09" cy="219.12" r="0.95" fill="#222"/>
<circle cx="113.29" cy="219.12" r="0.95" fill="#222"/>
<path d="M32.9 194.4V280.4M30.7 280.4H32.9M31.7 272.01H32.9M30.7 263.62H32.9M31.7 255.23H32.9M30.7 246.84H32.9M31.7 238.45H32.9M30.7 230.06H32.9M31.7 221.67H32.9M30.7 213.28H32.9M31.7 204.89H32.9M30.7 196.5H32.9M77.5 280.4V282.6M125.44 280.4V282.6M173.38 280.4V282.6M221.32 280.4V282.6M32.9 280.4H264.92M39.1 272.43V270M37.3 270H40.9M39.1 280.4V282.6M48.72 275.7V272.93M46.92 272.93H50.52M48.72 280.4V282.6M58.34 273.44V271.17M56.54 271.17H60.14M58.34 280.4V282.6M67.96 275.7V273.69M66.16 273.69H69.76M67.96 280.4V282.6M87.04 232.66V216.3M85.24 216.3H88.84M87.04 280.4V282.6M96.66 262.53V259.09M94.86 259.09H98.46M96.66 280.4V282.6M106.28 238.45V227.79M104.48 227.79H108.08M106.28 280.4V282.6M115.9 269.24V267.31M114.1 267.31H117.7M115.9 280.4V282.6M134.98 252.13V246.42M133.18 246.42H136.78M134.98 280.4V282.6M144.6 265.38V260.01M142.8 260.01H146.4M144.6 280.4V282.6M154.22 258.33V255.31M152.42 255.31H156.02M154.22 280.4V282.6M163.84 271.67V267.48M162.04 267.48H165.64M163.84 280.4V282.6M182.92 257.33V255.73M181.12 255.73H184.72M182.92 280.4V282.6M192.54 267.9V263.37M190.74 263.37H194.34M192.54 280.4V282.6M202.16 280.4V282.6M211.78 271.17V268.74M209.98 268.74H213.58M211.78 280.4V282.6M230.86 253.55V249.86M229.06 249.86H232.66M230.86 280.4V282.6M240.48 266.3V261.77M238.68 261.77H242.28M240.48 280.4V282.6M250.1 259.51V258.08M248.3 258.08H251.9M250.1 280.4V282.6M259.72 270.5V267.9M257.92 267.9H261.52M259.72 280.4V282.6M82.34 299.7V301.1H120.6V299.7M130.28 299.7V301.1H168.54V299.7M178.22 299.7V301.1H216.48V299.7M226.16 299.7V301.1H264.42V299.7M87.04 213.11V209.67H96.66V257.16M106.28 224.52V221.92H115.9V266.81" stroke="#2b2b2b" stroke-width="0.9" fill="none"/>
<path d="M35.4 278.72H42.8M35.4 279.14H42.8M39.1 278.72V277.88M37.6 277.88H40.6M45.02 278.47H52.42M45.02 278.72H52.42M48.72 278.47V277.88M47.22 277.88H50.22M54.64 278.72H62.04M54.64 279.14H62.04M58.34 278.72V277.88M56.84 277.88H59.84M64.26 278.47H71.66M64.26 278.72H71.66M67.96 278.47V277.88M66.46 277.88H69.46M83.34 270.58H90.74M83.34 274.86H90.74M87.04 274.86V273.52M85.64 273.52H88.44M87.04 270.58V267.4M85.54 267.4H88.54M92.96 275.37H100.36M92.96 276.04H100.36M96.66 275.37V274.53M95.16 274.53H98.16M102.58 263.96H109.98M102.58 277.88H109.98M106.28 277.88V276.54M104.88 276.54H107.68M106.28 263.96V253.8M104.78 253.8H107.78M112.2 277.04H119.6M112.2 277.88H119.6M131.28 272.85H138.68M131.28 275.79H138.68M134.98 275.79V274.44M133.58 274.44H136.38M134.98 272.85V271.17M133.48 271.17H136.48M140.9 275.79H148.3M140.9 276.71H148.3M144.6 275.79V274.11M143.1 274.11H146.1M150.52 271.67H157.92M150.52 277.13H157.92M154.22 277.13V275.79M152.82 275.79H155.62M154.22 271.67V268.74M152.72 268.74H155.72M160.14 277.88H167.54M160.14 278.39H167.54M179.22 275.11H186.62M179.22 277.88H186.62M182.92 277.88V276.54M181.52 276.54H184.32M182.92 275.11V274.11M181.42 274.11H184.42M188.84 277.04H196.24M188.84 277.88H196.24M192.54 277.04V276.2M191.04 276.2H194.04M198.46 275.11H205.86M198.46 277.88H205.86M202.16 277.88V276.54M200.76 276.54H203.56M202.16 275.11V272.43M200.66 272.43H203.66M208.08 277.46H215.48M208.08 278.3H215.48M227.16 274.28H234.56M227.16 276.79H234.56M230.86 276.79V275.45M229.46 275.45H232.26M236.78 276.62H244.18M236.78 277.21H244.18M240.48 276.62V275.79M238.98 275.79H241.98M246.4 273.6H253.8M246.4 277.72H253.8M250.1 277.72V276.37M248.7 276.37H251.5M250.1 273.6V272.18M248.6 272.18H251.6M256.02 277.88H263.42M256.02 278.64H263.42" stroke="#111" stroke-width="0.8" fill="none"/>
<path d="M38.3 288.1H39.9M38.3 295.1H39.9M47.32 288.1H50.12M48.72 286.7V289.5M47.92 295.1H49.52M57.54 288.1H59.14M56.94 295.1H59.74M58.34 293.7V296.5M66.56 288.1H69.36M67.96 286.7V289.5M66.56 295.1H69.36M67.96 293.7V296.5M86.24 288.1H87.84M86.24 295.1H87.84M95.26 288.1H98.06M96.66 286.7V289.5M95.86 295.1H97.46M105.48 288.1H107.08M104.88 295.1H107.68M106.28 293.7V296.5M114.5 288.1H117.3M115.9 286.7V289.5M114.5 295.1H117.3M115.9 293.7V296.5M134.18 288.1H135.78M134.18 295.1H135.78M143.2 288.1H146M144.6 286.7V289.5M143.8 295.1H145.4M153.42 288.1H155.02M152.82 295.1H155.62M154.22 293.7V296.5M162.44 288.1H165.24M163.84 286.7V289.5M162.44 295.1H165.24M163.84 293.7V296.5M182.12 288.1H183.72M182.12 295.1H183.72M191.14 288.1H193.94M192.54 286.7V289.5M191.74 295.1H193.34M201.36 288.1H202.96M200.76 295.1H203.56M202.16 293.7V296.5M210.38 288.1H213.18M211.78 286.7V289.5M210.38 295.1H213.18M211.78 293.7V296.5M230.06 288.1H231.66M230.06 295.1H231.66M239.08 288.1H241.88M240.48 286.7V289.5M239.68 295.1H241.28M249.3 288.1H250.9M248.7 295.1H251.5M250.1 293.7V296.5M258.32 288.1H261.12M259.72 286.7V289.5M258.32 295.1H261.12M259.72 293.7V296.5" stroke="#111" stroke-width="1.1" fill="none"/>
<text x="433.2" y="176.67" font-size="11.4" font-weight="bold" text-anchor="middle">RPMI 8226</text>
<text transform="translate(288.4,238.1) rotate(-90)" font-size="5.8" font-weight="bold" fill="#111" stroke="#111" stroke-width="0.1" text-anchor="middle">% Cell death</text>
<text x="302.6" y="283.4" font-size="5.8" font-weight="bold" fill="#1a1a1a" stroke="#1a1a1a" stroke-width="0.12" text-anchor="end">0</text>
<text x="302.6" y="266.62" font-size="5.8" font-weight="bold" fill="#1a1a1a" stroke="#1a1a1a" stroke-width="0.12" text-anchor="end">20</text>
<text x="302.6" y="249.84" font-size="5.8" font-weight="bold" fill="#1a1a1a" stroke="#1a1a1a" stroke-width="0.12" text-anchor="end">40</text>
<text x="302.6" y="233.06" font-size="5.8" font-weight="bold" fill="#1a1a1a" stroke="#1a1a1a" stroke-width="0.12" text-anchor="end">60</text>
<text x="302.6" y="216.28" font-size="5.8" font-weight="bold" fill="#1a1a1a" stroke="#1a1a1a" stroke-width="0.12" text-anchor="end">80</text>
<text x="302.6" y="199.5" font-size="5.8" font-weight="bold" fill="#1a1a1a" stroke="#1a1a1a" stroke-width="0.12" text-anchor="end">100</text>
<rect x="308.7" y="260.56" width="7.4" height="16.02" fill="#c2c2c2"/>
<rect x="308.7" y="276.59" width="7.4" height="0.84" fill="#f2f2f2"/>
<rect x="308.7" y="277.42" width="7.4" height="3.78" fill="#444444"/>
<rect x="309.1" y="260.96" width="6.6" height="20.24" fill="none" stroke="#2b2b2b" stroke-width="0.8"/>
<rect x="318.32" y="271.55" width="7.4" height="6.12" fill="#c2c2c2"/>
<rect x="318.32" y="277.68" width="7.4" height="0.59" fill="#f2f2f2"/>
<rect x="318.32" y="278.26" width="7.4" height="2.94" fill="#444444"/>
<rect x="318.72" y="271.95" width="6.6" height="9.25" fill="none" stroke="#2b2b2b" stroke-width="0.8"/>
<rect x="327.94" y="261.99" width="7.4" height="14.6" fill="#c2c2c2"/>
<rect x="327.94" y="276.59" width="7.4" height="0.84" fill="#f2f2f2"/>
<rect x="327.94" y="277.42" width="7.4" height="3.78" fill="#444444"/>
<rect x="328.34" y="262.39" width="6.6" height="18.81" fill="none" stroke="#2b2b2b" stroke-width="0.8"/>
<rect x="337.56" y="271.55" width="7.4" height="6.63" fill="#c2c2c2"/>
<rect x="337.56" y="278.18" width="7.4" height="0.5" fill="#f2f2f2"/>
<rect x="337.56" y="278.68" width="7.4" height="2.52" fill="#444444"/>
<rect x="337.96" y="271.95" width="6.6" height="9.25" fill="none" stroke="#2b2b2b" stroke-width="0.8"/>
<rect x="356.64" y="219.37" width="7.4" height="55.63" fill="#4fbdcc"/>
<rect x="356.64" y="274.99" width="7.4" height="3.61" fill="#e9f6f8"/>
<rect x="356.64" y="278.6" width="7.4" height="2.6" fill="#14877f"/>
<rect x="357.04" y="219.77" width="6.6" height="61.43" fill="none" stroke="#2b2b2b" stroke-width="0.8"/>
<rect x="366.26" y="259.39" width="7.4" height="15.94" fill="#4fbdcc"/>
<rect x="366.26" y="275.33" width="7.4" height="2.52" fill="#e9f6f8"/>
<rect x="366.26" y="277.84" width="7.4" height="3.36" fill="#14877f"/>
<rect x="366.66" y="259.79" width="6.6" height="21.41" fill="none" stroke="#2b2b2b" stroke-width="0.8"/>
<rect x="375.88" y="214.33" width="7.4" height="55.96" fill="#4fbdcc"/>
<rect x="375.88" y="270.29" width="7.4" height="5.79" fill="#e9f6f8"/>
<rect x="375.88" y="276.08" width="7.4" height="5.12" fill="#14877f"/>
<rect x="376.28" y="214.73" width="6.6" height="66.47" fill="none" stroke="#2b2b2b" stroke-width="0.8"/>
<rect x="385.5" y="259.13" width="7.4" height="16.19" fill="#4fbdcc"/>
<rect x="385.5" y="275.33" width="7.4" height="2.94" fill="#e9f6f8"/>
<rect x="385.5" y="278.26" width="7.4" height="2.94" fill="#14877f"/>
<rect x="385.9" y="259.53" width="6.6" height="21.67" fill="none" stroke="#2b2b2b" stroke-width="0.8"/>
<rect x="404.58" y="207.37" width="7.4" height="61.67" fill="#4fbdcc"/>
<rect x="404.58" y="269.03" width="7.4" height="3.27" fill="#e9f6f8"/>
<rect x="404.58" y="272.31" width="7.4" height="8.89" fill="#14877f"/>
<rect x="404.98" y="207.77" width="6.6" height="73.43" fill="none" stroke="#2b2b2b" stroke-width="0.8"/>
<rect x="414.2" y="253.26" width="7.4" height="17.87" fill="#4fbdcc"/>
<rect x="414.2" y="271.13" width="7.4" height="3.36" fill="#e9f6f8"/>
<rect x="414.2" y="274.49" width="7.4" height="6.71" fill="#14877f"/>
<rect x="414.6" y="253.66" width="6.6" height="27.54" fill="none" stroke="#2b2b2b" stroke-width="0.8"/>
<rect x="423.82" y="206.11" width="7.4" height="60.83" fill="#4fbdcc"/>
<rect x="423.82" y="266.94" width="7.4" height="7.55" fill="#e9f6f8"/>
<rect x="423.82" y="274.49" width="7.4" height="6.71" fill="#14877f"/>
<rect x="424.22" y="206.51" width="6.6" height="74.69" fill="none" stroke="#2b2b2b" stroke-width="0.8"/>
<rect x="433.44" y="256.03" width="7.4" height="15.94" fill="#4fbdcc"/>
<rect x="433.44" y="271.97" width="7.4" height="4.19" fill="#e9f6f8"/>
<rect x="433.44" y="276.17" width="7.4" height="5.03" fill="#14877f"/>
<rect x="433.84" y="256.43" width="6.6" height="24.77" fill="none" stroke="#2b2b2b" stroke-width="0.8"/>
<rect x="452.52" y="213.49" width="7.4" height="55.12" fill="#f9d1e3"/>
<rect x="452.52" y="268.62" width="7.4" height="7.05" fill="#fdf3f8"/>
<rect x="452.52" y="275.66" width="7.4" height="5.54" fill="#e73a88"/>
<rect x="452.92" y="213.89" width="6.6" height="67.31" fill="none" stroke="#2b2b2b" stroke-width="0.8"/>
<rect x="462.14" y="254.35" width="7.4" height="16.78" fill="#f9d1e3"/>
<rect x="462.14" y="271.13" width="7.4" height="5.03" fill="#fdf3f8"/>
<rect x="462.14" y="276.17" width="7.4" height="5.03" fill="#e73a88"/>
<rect x="462.54" y="254.75" width="6.6" height="26.45" fill="none" stroke="#2b2b2b" stroke-width="0.8"/>
<rect x="471.76" y="208.29" width="7.4" height="53.61" fill="#f9d1e3"/>
<rect x="471.76" y="261.9" width="7.4" height="8.39" fill="#fdf3f8"/>
<rect x="471.76" y="270.29" width="7.4" height="10.91" fill="#e73a88"/>
<rect x="472.16" y="208.69" width="6.6" height="72.51" fill="none" stroke="#2b2b2b" stroke-width="0.8"/>
<rect x="481.38" y="250.16" width="7.4" height="20.97" fill="#f9d1e3"/>
<rect x="481.38" y="271.13" width="7.4" height="4.19" fill="#fdf3f8"/>
<rect x="481.38" y="275.33" width="7.4" height="5.87" fill="#e73a88"/>
<rect x="481.78" y="250.56" width="6.6" height="30.64" fill="none" stroke="#2b2b2b" stroke-width="0.8"/>
<rect x="500.46" y="208.04" width="7.4" height="58.9" fill="#f9d1e3"/>
<rect x="500.46" y="266.94" width="7.4" height="5.54" fill="#fdf3f8"/>
<rect x="500.46" y="272.47" width="7.4" height="8.73" fill="#e73a88"/>
<rect x="500.86" y="208.44" width="6.6" height="72.76" fill="none" stroke="#2b2b2b" stroke-width="0.8"/>
<rect x="510.08" y="248.06" width="7.4" height="22.82" fill="#f9d1e3"/>
<rect x="510.08" y="270.88" width="7.4" height="4.53" fill="#fdf3f8"/>
<rect x="510.08" y="275.41" width="7.4" height="5.79" fill="#e73a88"/>
<rect x="510.48" y="248.46" width="6.6" height="32.74" fill="none" stroke="#2b2b2b" stroke-width="0.8"/>
<rect x="519.7" y="207.2" width="7.4" height="56.63" fill="#f9d1e3"/>
<rect x="519.7" y="263.83" width="7.4" height="7.89" fill="#fdf3f8"/>
<rect x="519.7" y="271.72" width="7.4" height="9.48" fill="#e73a88"/>
<rect x="520.1" y="207.6" width="6.6" height="73.6" fill="none" stroke="#2b2b2b" stroke-width="0.8"/>
<rect x="529.32" y="251.84" width="7.4" height="19.05" fill="#f9d1e3"/>
<rect x="529.32" y="270.88" width="7.4" height="4.53" fill="#fdf3f8"/>
<rect x="529.32" y="275.41" width="7.4" height="5.79" fill="#e73a88"/>
<rect x="529.72" y="252.24" width="6.6" height="28.96" fill="none" stroke="#2b2b2b" stroke-width="0.8"/>
<text x="304.7" y="290.1" font-size="4.7" font-weight="bold" text-anchor="end">Z-VAD 30 μM</text>
<text x="304.7" y="297.3" font-size="4.7" font-weight="bold" text-anchor="end">Nec-1 30 μM</text>
<text x="374.77" y="307.6" font-size="4.5" font-weight="bold" stroke="#000" stroke-width="0.12" text-anchor="middle">Alis 125 nM</text>
<text x="422.71" y="307.6" font-size="4.5" font-weight="bold" stroke="#000" stroke-width="0.12" text-anchor="middle">Alis 5 μM</text>
<text x="470.65" y="307.6" font-size="4.5" font-weight="bold" stroke="#000" stroke-width="0.12" text-anchor="middle">Bara 500 nM</text>
<text x="518.59" y="307.6" font-size="4.5" font-weight="bold" stroke="#000" stroke-width="0.12" text-anchor="middle">Bara 5 μM</text>
<circle cx="361.85" cy="207.59" r="0.95" fill="#222"/>
<circle cx="364.05" cy="207.59" r="0.95" fill="#222"/>
<circle cx="366.25" cy="207.59" r="0.95" fill="#222"/>
<circle cx="368.45" cy="207.59" r="0.95" fill="#222"/>
<circle cx="381.09" cy="202.39" r="0.95" fill="#222"/>
<circle cx="383.29" cy="202.39" r="0.95" fill="#222"/>
<circle cx="385.49" cy="202.39" r="0.95" fill="#222"/>
<circle cx="387.69" cy="202.39" r="0.95" fill="#222"/>
<circle cx="409.79" cy="191.48" r="0.95" fill="#222"/>
<circle cx="411.99" cy="191.48" r="0.95" fill="#222"/>
<circle cx="414.19" cy="191.48" r="0.95" fill="#222"/>
<circle cx="416.39" cy="191.48" r="0.95" fill="#222"/>
<circle cx="429.03" cy="185.27" r="0.95" fill="#222"/>
<circle cx="431.23" cy="185.27" r="0.95" fill="#222"/>
<circle cx="433.43" cy="185.27" r="0.95" fill="#222"/>
<circle cx="435.63" cy="185.27" r="0.95" fill="#222"/>
<circle cx="457.73" cy="198.69" r="0.95" fill="#222"/>
<circle cx="459.93" cy="198.69" r="0.95" fill="#222"/>
<circle cx="462.13" cy="198.69" r="0.95" fill="#222"/>
<circle cx="464.33" cy="198.69" r="0.95" fill="#222"/>
<circle cx="476.97" cy="194.58" r="0.95" fill="#222"/>
<circle cx="479.17" cy="194.58" r="0.95" fill="#222"/>
<circle cx="481.37" cy="194.58" r="0.95" fill="#222"/>
<circle cx="483.57" cy="194.58" r="0.95" fill="#222"/>
<circle cx="505.67" cy="193.41" r="0.95" fill="#222"/>
<circle cx="507.87" cy="193.41" r="0.95" fill="#222"/>
<circle cx="510.07" cy="193.41" r="0.95" fill="#222"/>
<circle cx="512.27" cy="193.41" r="0.95" fill="#222"/>
<circle cx="524.91" cy="193.41" r="0.95" fill="#222"/>
<circle cx="527.11" cy="193.41" r="0.95" fill="#222"/>
<circle cx="529.31" cy="193.41" r="0.95" fill="#222"/>
<circle cx="531.51" cy="193.41" r="0.95" fill="#222"/>
<path d="M306.2 195.2V281.2M304 281.2H306.2M305 272.81H306.2M304 264.42H306.2M305 256.03H306.2M304 247.64H306.2M305 239.25H306.2M304 230.86H306.2M305 222.47H306.2M304 214.08H306.2M305 205.69H306.2M304 197.3H306.2M350.8 281.2V283.4M398.74 281.2V283.4M446.68 281.2V283.4M494.62 281.2V283.4M306.2 281.2H538.22M312.4 260.56V254.35M310.6 254.35H314.2M312.4 281.2V283.4M322.02 271.55V270.29M320.22 270.29H323.82M322.02 281.2V283.4M331.64 261.99V260.64M329.84 260.64H333.44M331.64 281.2V283.4M341.26 271.55V270.29M339.46 270.29H343.06M341.26 281.2V283.4M360.34 219.37V217.52M358.54 217.52H362.14M360.34 281.2V283.4M369.96 259.39V254.35M368.16 254.35H371.76M369.96 281.2V283.4M379.58 214.33V211.9M377.78 211.9H381.38M379.58 281.2V283.4M389.2 259.13V254.35M387.4 254.35H391M389.2 281.2V283.4M408.28 207.37V201.41M406.48 201.41H410.08M408.28 281.2V283.4M417.9 253.26V252M416.1 252H419.7M417.9 281.2V283.4M427.52 206.11V195.12M425.72 195.12H429.32M427.52 281.2V283.4M437.14 256.03V252.67M435.34 252.67H438.94M437.14 281.2V283.4M456.22 213.49V208.88M454.42 208.88H458.02M456.22 281.2V283.4M465.84 254.35V248.48M464.04 248.48H467.64M465.84 281.2V283.4M475.46 208.29V203.51M473.66 203.51H477.26M475.46 281.2V283.4M485.08 250.16V244.37M483.28 244.37H486.88M485.08 281.2V283.4M504.16 208.04V203.09M502.36 203.09H505.96M504.16 281.2V283.4M513.78 248.06V240.93M511.98 240.93H515.58M513.78 281.2V283.4M523.4 207.2V202.67M521.6 202.67H525.2M523.4 281.2V283.4M533.02 251.84V247.14M531.22 247.14H534.82M533.02 281.2V283.4M355.64 300.5V301.9H393.9V300.5M403.58 300.5V301.9H441.84V300.5M451.52 300.5V301.9H489.78V300.5M499.46 300.5V301.9H537.72V300.5M360.34 214.33V210.39H369.96V252.34M379.58 208.54V205.19H389.2V252.34M408.28 197.47V194.28H417.9V251.33M427.52 192.27V188.07H437.14V251.33M456.22 205.19V201.5H465.84V248.4M475.46 200.66V197.38H485.08V244.03M504.16 200.32V196.21H513.78V240.01M523.4 199.48V196.21H533.02V245.96" stroke="#2b2b2b" stroke-width="0.9" fill="none"/>
<path d="M308.7 276.59H316.1M308.7 277.42H316.1M312.4 276.59V275.75M310.9 275.75H313.9M318.32 277.68H325.72M318.32 278.26H325.72M322.02 277.68V277M320.52 277H323.52M327.94 276.59H335.34M327.94 277.42H335.34M331.64 276.59V275.75M330.14 275.75H333.14M337.56 278.18H344.96M337.56 278.68H344.96M341.26 278.18V277.42M339.76 277.42H342.76M356.64 274.99H364.04M356.64 278.6H364.04M360.34 278.6V277.26M358.94 277.26H361.74M360.34 274.99V273.65M358.84 273.65H361.84M366.26 275.33H373.66M366.26 277.84H373.66M369.96 277.84V276.5M368.56 276.5H371.36M369.96 275.33V274.49M368.46 274.49H371.46M375.88 270.29H383.28M375.88 276.08H383.28M379.58 276.08V274.74M378.18 274.74H380.98M379.58 270.29V266.1M378.08 266.1H381.08M385.5 275.33H392.9M385.5 278.26H392.9M389.2 278.26V276.92M387.8 276.92H390.6M389.2 275.33V274.49M387.7 274.49H390.7M404.58 269.03H411.98M404.58 272.31H411.98M408.28 272.31V270.96M406.88 270.96H409.68M408.28 269.03V268.28M406.78 268.28H409.78M414.2 271.13H421.6M414.2 274.49H421.6M417.9 274.49V273.15M416.5 273.15H419.3M417.9 271.13V270.04M416.4 270.04H419.4M423.82 266.94H431.22M423.82 274.49H431.22M427.52 274.49V273.15M426.12 273.15H428.92M427.52 266.94V265.26M426.02 265.26H429.02M433.44 271.97H440.84M433.44 276.17H440.84M437.14 276.17V274.82M435.74 274.82H438.54M437.14 271.97V271.13M435.64 271.13H438.64M452.52 268.62H459.92M452.52 275.66H459.92M456.22 275.66V274.32M454.82 274.32H457.62M456.22 268.62V266.6M454.72 266.6H457.72M462.14 271.13H469.54M462.14 276.17H469.54M465.84 276.17V274.82M464.44 274.82H467.24M465.84 271.13V269.45M464.34 269.45H467.34M471.76 261.9H479.16M471.76 270.29H479.16M475.46 270.29V268.95M474.06 268.95H476.86M475.46 261.9V258.88M473.96 258.88H476.96M481.38 271.13H488.78M481.38 275.33H488.78M485.08 275.33V273.98M483.68 273.98H486.48M485.08 271.13V269.45M483.58 269.45H486.58M500.46 266.94H507.86M500.46 272.47H507.86M504.16 272.47V271.13M502.76 271.13H505.56M504.16 266.94V266.1M502.66 266.1H505.66M510.08 270.88H517.48M510.08 275.41H517.48M513.78 275.41V274.07M512.38 274.07H515.18M513.78 270.88V268.95M512.28 268.95H515.28M519.7 263.83H527.1M519.7 271.72H527.1M523.4 271.72V270.38M522 270.38H524.8M523.4 263.83V262.74M521.9 262.74H524.9M529.32 270.88H536.72M529.32 275.41H536.72M533.02 275.41V274.07M531.62 274.07H534.42M533.02 270.88V270.29M531.52 270.29H534.52" stroke="#111" stroke-width="0.8" fill="none"/>
<path d="M311.6 288.9H313.2M311.6 295.9H313.2M320.62 288.9H323.42M322.02 287.5V290.3M321.22 295.9H322.82M330.84 288.9H332.44M330.24 295.9H333.04M331.64 294.5V297.3M339.86 288.9H342.66M341.26 287.5V290.3M339.86 295.9H342.66M341.26 294.5V297.3M359.54 288.9H361.14M359.54 295.9H361.14M368.56 288.9H371.36M369.96 287.5V290.3M369.16 295.9H370.76M378.78 288.9H380.38M378.18 295.9H380.98M379.58 294.5V297.3M387.8 288.9H390.6M389.2 287.5V290.3M387.8 295.9H390.6M389.2 294.5V297.3M407.48 288.9H409.08M407.48 295.9H409.08M416.5 288.9H419.3M417.9 287.5V290.3M417.1 295.9H418.7M426.72 288.9H428.32M426.12 295.9H428.92M427.52 294.5V297.3M435.74 288.9H438.54M437.14 287.5V290.3M435.74 295.9H438.54M437.14 294.5V297.3M455.42 288.9H457.02M455.42 295.9H457.02M464.44 288.9H467.24M465.84 287.5V290.3M465.04 295.9H466.64M474.66 288.9H476.26M474.06 295.9H476.86M475.46 294.5V297.3M483.68 288.9H486.48M485.08 287.5V290.3M483.68 295.9H486.48M485.08 294.5V297.3M503.36 288.9H504.96M503.36 295.9H504.96M512.38 288.9H515.18M513.78 287.5V290.3M512.98 295.9H514.58M522.6 288.9H524.2M522 295.9H524.8M523.4 294.5V297.3M531.62 288.9H534.42M533.02 287.5V290.3M531.62 295.9H534.42M533.02 294.5V297.3" stroke="#111" stroke-width="1.1" fill="none"/>
<text x="155.2" y="342.57" font-size="11.4" font-weight="bold" text-anchor="middle">OPM-2</text>
<text transform="translate(15.8,404.3) rotate(-90)" font-size="5.8" font-weight="bold" fill="#111" stroke="#111" stroke-width="0.1" text-anchor="middle">% Cell death</text>
<text x="30" y="449.6" font-size="5.8" font-weight="bold" fill="#1a1a1a" stroke="#1a1a1a" stroke-width="0.12" text-anchor="end">0</text>
<text x="30" y="432.82" font-size="5.8" font-weight="bold" fill="#1a1a1a" stroke="#1a1a1a" stroke-width="0.12" text-anchor="end">20</text>
<text x="30" y="416.04" font-size="5.8" font-weight="bold" fill="#1a1a1a" stroke="#1a1a1a" stroke-width="0.12" text-anchor="end">40</text>
<text x="30" y="399.26" font-size="5.8" font-weight="bold" fill="#1a1a1a" stroke="#1a1a1a" stroke-width="0.12" text-anchor="end">60</text>
<text x="30" y="382.48" font-size="5.8" font-weight="bold" fill="#1a1a1a" stroke="#1a1a1a" stroke-width="0.12" text-anchor="end">80</text>
<text x="30" y="365.7" font-size="5.8" font-weight="bold" fill="#1a1a1a" stroke="#1a1a1a" stroke-width="0.12" text-anchor="end">100</text>
<rect x="35.95" y="421.39" width="7.4" height="22.65" fill="#c2c2c2"/>
<rect x="35.95" y="444.04" width="7.4" height="1.68" fill="#f2f2f2"/>
<rect x="35.95" y="445.72" width="7.4" height="1.68" fill="#444444"/>
<rect x="36.35" y="421.79" width="6.6" height="25.61" fill="none" stroke="#2b2b2b" stroke-width="0.8"/>
<rect x="45.57" y="437.33" width="7.4" height="7.55" fill="#c2c2c2"/>
<rect x="45.57" y="444.88" width="7.4" height="0.42" fill="#f2f2f2"/>
<rect x="45.57" y="445.3" width="7.4" height="2.1" fill="#444444"/>
<rect x="45.97" y="437.73" width="6.6" height="9.67" fill="none" stroke="#2b2b2b" stroke-width="0.8"/>
<rect x="55.19" y="422.06" width="7.4" height="19.46" fill="#c2c2c2"/>
<rect x="55.19" y="441.53" width="7.4" height="2.94" fill="#f2f2f2"/>
<rect x="55.19" y="444.46" width="7.4" height="2.94" fill="#444444"/>
<rect x="55.59" y="422.46" width="6.6" height="24.94" fill="none" stroke="#2b2b2b" stroke-width="0.8"/>
<rect x="64.81" y="437.33" width="7.4" height="7.55" fill="#c2c2c2"/>
<rect x="64.81" y="444.88" width="7.4" height="0.42" fill="#f2f2f2"/>
<rect x="64.81" y="445.3" width="7.4" height="2.1" fill="#444444"/>
<rect x="65.21" y="437.73" width="6.6" height="9.67" fill="none" stroke="#2b2b2b" stroke-width="0.8"/>
<rect x="83.89" y="384.98" width="7.4" height="55.71" fill="#4fbdcc"/>
<rect x="83.89" y="440.69" width="7.4" height="3.36" fill="#e9f6f8"/>
<rect x="83.89" y="444.04" width="7.4" height="3.36" fill="#14877f"/>
<rect x="84.29" y="385.38" width="6.6" height="62.02" fill="none" stroke="#2b2b2b" stroke-width="0.8"/>
<rect x="93.51" y="418.2" width="7.4" height="22.49" fill="#4fbdcc"/>
<rect x="93.51" y="440.69" width="7.4" height="3.02" fill="#e9f6f8"/>
<rect x="93.51" y="443.71" width="7.4" height="3.69" fill="#14877f"/>
<rect x="93.91" y="418.6" width="6.6" height="28.8" fill="none" stroke="#2b2b2b" stroke-width="0.8"/>
<rect x="103.13" y="381.37" width="7.4" height="56.8" fill="#4fbdcc"/>
<rect x="103.13" y="438.17" width="7.4" height="5.03" fill="#e9f6f8"/>
<rect x="103.13" y="443.2" width="7.4" height="4.19" fill="#14877f"/>
<rect x="103.53" y="381.77" width="6.6" height="65.63" fill="none" stroke="#2b2b2b" stroke-width="0.8"/>
<rect x="112.75" y="419.88" width="7.4" height="20.81" fill="#4fbdcc"/>
<rect x="112.75" y="440.69" width="7.4" height="3.36" fill="#e9f6f8"/>
<rect x="112.75" y="444.04" width="7.4" height="3.36" fill="#14877f"/>
<rect x="113.15" y="420.28" width="6.6" height="27.12" fill="none" stroke="#2b2b2b" stroke-width="0.8"/>
<rect x="131.83" y="374.32" width="7.4" height="58.81" fill="#4fbdcc"/>
<rect x="131.83" y="433.14" width="7.4" height="2.94" fill="#e9f6f8"/>
<rect x="131.83" y="436.07" width="7.4" height="11.33" fill="#14877f"/>
<rect x="132.23" y="374.72" width="6.6" height="72.68" fill="none" stroke="#2b2b2b" stroke-width="0.8"/>
<rect x="141.45" y="417.28" width="7.4" height="20.39" fill="#4fbdcc"/>
<rect x="141.45" y="437.67" width="7.4" height="3.02" fill="#e9f6f8"/>
<rect x="141.45" y="440.69" width="7.4" height="6.71" fill="#14877f"/>
<rect x="141.85" y="417.68" width="6.6" height="29.72" fill="none" stroke="#2b2b2b" stroke-width="0.8"/>
<rect x="151.07" y="374.32" width="7.4" height="62.17" fill="#4fbdcc"/>
<rect x="151.07" y="436.49" width="7.4" height="4.19" fill="#e9f6f8"/>
<rect x="151.07" y="440.69" width="7.4" height="6.71" fill="#14877f"/>
<rect x="151.47" y="374.72" width="6.6" height="72.68" fill="none" stroke="#2b2b2b" stroke-width="0.8"/>
<rect x="160.69" y="419.71" width="7.4" height="18.46" fill="#4fbdcc"/>
<rect x="160.69" y="438.17" width="7.4" height="4.19" fill="#e9f6f8"/>
<rect x="160.69" y="442.37" width="7.4" height="5.03" fill="#14877f"/>
<rect x="161.09" y="420.11" width="6.6" height="27.29" fill="none" stroke="#2b2b2b" stroke-width="0.8"/>
<rect x="179.77" y="383.8" width="7.4" height="54.37" fill="#f9d1e3"/>
<rect x="179.77" y="438.17" width="7.4" height="3.86" fill="#fdf3f8"/>
<rect x="179.77" y="442.03" width="7.4" height="5.37" fill="#e73a88"/>
<rect x="180.17" y="384.2" width="6.6" height="63.2" fill="none" stroke="#2b2b2b" stroke-width="0.8"/>
<rect x="189.39" y="402.51" width="7.4" height="33.14" fill="#f9d1e3"/>
<rect x="189.39" y="435.65" width="7.4" height="3.36" fill="#fdf3f8"/>
<rect x="189.39" y="439.01" width="7.4" height="8.39" fill="#e73a88"/>
<rect x="189.79" y="402.91" width="6.6" height="44.49" fill="none" stroke="#2b2b2b" stroke-width="0.8"/>
<rect x="199.01" y="376.84" width="7.4" height="56.3" fill="#f9d1e3"/>
<rect x="199.01" y="433.14" width="7.4" height="4.87" fill="#fdf3f8"/>
<rect x="199.01" y="438" width="7.4" height="9.4" fill="#e73a88"/>
<rect x="199.41" y="377.24" width="6.6" height="70.16" fill="none" stroke="#2b2b2b" stroke-width="0.8"/>
<rect x="208.63" y="413.84" width="7.4" height="22.65" fill="#f9d1e3"/>
<rect x="208.63" y="436.49" width="7.4" height="4.19" fill="#fdf3f8"/>
<rect x="208.63" y="440.69" width="7.4" height="6.71" fill="#e73a88"/>
<rect x="209.03" y="414.24" width="6.6" height="33.16" fill="none" stroke="#2b2b2b" stroke-width="0.8"/>
<rect x="227.71" y="376.08" width="7.4" height="55.79" fill="#f9d1e3"/>
<rect x="227.71" y="431.88" width="7.4" height="4.03" fill="#fdf3f8"/>
<rect x="227.71" y="435.91" width="7.4" height="11.49" fill="#e73a88"/>
<rect x="228.11" y="376.48" width="6.6" height="70.91" fill="none" stroke="#2b2b2b" stroke-width="0.8"/>
<rect x="237.33" y="410.48" width="7.4" height="24.83" fill="#f9d1e3"/>
<rect x="237.33" y="435.32" width="7.4" height="5.2" fill="#fdf3f8"/>
<rect x="237.33" y="440.52" width="7.4" height="6.88" fill="#e73a88"/>
<rect x="237.73" y="410.88" width="6.6" height="36.52" fill="none" stroke="#2b2b2b" stroke-width="0.8"/>
<rect x="246.95" y="376.08" width="7.4" height="53.53" fill="#f9d1e3"/>
<rect x="246.95" y="429.61" width="7.4" height="6.29" fill="#fdf3f8"/>
<rect x="246.95" y="435.91" width="7.4" height="11.49" fill="#e73a88"/>
<rect x="247.35" y="376.48" width="6.6" height="70.91" fill="none" stroke="#2b2b2b" stroke-width="0.8"/>
<rect x="256.57" y="413.5" width="7.4" height="22.4" fill="#f9d1e3"/>
<rect x="256.57" y="435.91" width="7.4" height="4.95" fill="#fdf3f8"/>
<rect x="256.57" y="440.86" width="7.4" height="6.54" fill="#e73a88"/>
<rect x="256.97" y="413.9" width="6.6" height="33.5" fill="none" stroke="#2b2b2b" stroke-width="0.8"/>
<text x="32.1" y="456.3" font-size="4.7" font-weight="bold" text-anchor="end">Z-VAD 30 μM</text>
<text x="32.1" y="463.5" font-size="4.7" font-weight="bold" text-anchor="end">Nec-1 30 μM</text>
<text x="102.02" y="473.8" font-size="4.5" font-weight="bold" stroke="#000" stroke-width="0.12" text-anchor="middle">Alis 125 nM</text>
<text x="149.96" y="473.8" font-size="4.5" font-weight="bold" stroke="#000" stroke-width="0.12" text-anchor="middle">Alis 5 μM</text>
<text x="197.9" y="473.8" font-size="4.5" font-weight="bold" stroke="#000" stroke-width="0.12" text-anchor="middle">Bara 500 nM</text>
<text x="245.84" y="473.8" font-size="4.5" font-weight="bold" stroke="#000" stroke-width="0.12" text-anchor="middle">Bara 5 μM</text>
<circle cx="44.46" cy="406.59" r="0.95" fill="#222"/>
<circle cx="63.7" cy="409.87" r="0.95" fill="#222"/>
<circle cx="89.1" cy="370.52" r="0.95" fill="#222"/>
<circle cx="91.3" cy="370.52" r="0.95" fill="#222"/>
<circle cx="93.5" cy="370.52" r="0.95" fill="#222"/>
<circle cx="95.7" cy="370.52" r="0.95" fill="#222"/>
<circle cx="108.34" cy="370.52" r="0.95" fill="#222"/>
<circle cx="110.54" cy="370.52" r="0.95" fill="#222"/>
<circle cx="112.74" cy="370.52" r="0.95" fill="#222"/>
<circle cx="114.94" cy="370.52" r="0.95" fill="#222"/>
<circle cx="137.04" cy="358.6" r="0.95" fill="#222"/>
<circle cx="139.24" cy="358.6" r="0.95" fill="#222"/>
<circle cx="141.44" cy="358.6" r="0.95" fill="#222"/>
<circle cx="143.64" cy="358.6" r="0.95" fill="#222"/>
<circle cx="156.28" cy="364.14" r="0.95" fill="#222"/>
<circle cx="158.48" cy="364.14" r="0.95" fill="#222"/>
<circle cx="160.68" cy="364.14" r="0.95" fill="#222"/>
<circle cx="162.88" cy="364.14" r="0.95" fill="#222"/>
<circle cx="204.22" cy="366.91" r="0.95" fill="#222"/>
<circle cx="206.42" cy="366.91" r="0.95" fill="#222"/>
<circle cx="208.62" cy="366.91" r="0.95" fill="#222"/>
<circle cx="210.82" cy="366.91" r="0.95" fill="#222"/>
<circle cx="232.92" cy="363.13" r="0.95" fill="#222"/>
<circle cx="235.12" cy="363.13" r="0.95" fill="#222"/>
<circle cx="237.32" cy="363.13" r="0.95" fill="#222"/>
<circle cx="239.52" cy="363.13" r="0.95" fill="#222"/>
<circle cx="252.16" cy="364.73" r="0.95" fill="#222"/>
<circle cx="254.36" cy="364.73" r="0.95" fill="#222"/>
<circle cx="256.56" cy="364.73" r="0.95" fill="#222"/>
<circle cx="258.76" cy="364.73" r="0.95" fill="#222"/>
<path d="M33.6 361.4V447.4M31.4 447.4H33.6M32.4 439.01H33.6M31.4 430.62H33.6M32.4 422.23H33.6M31.4 413.84H33.6M32.4 405.45H33.6M31.4 397.06H33.6M32.4 388.67H33.6M31.4 380.28H33.6M32.4 371.89H33.6M31.4 363.5H33.6M78.05 447.4V449.6M125.99 447.4V449.6M173.93 447.4V449.6M221.87 447.4V449.6M33.6 447.4H265.47M39.65 421.39V416.78M37.85 416.78H41.45M39.65 447.4V449.6M49.27 437.33V434.4M47.47 434.4H51.07M49.27 447.4V449.6M58.89 422.06V419.63M57.09 419.63H60.69M58.89 447.4V449.6M68.51 437.33V434.4M66.71 434.4H70.31M68.51 447.4V449.6M87.59 384.98V381.37M85.79 381.37H89.39M87.59 447.4V449.6M97.21 418.2V410.23M95.41 410.23H99.01M97.21 447.4V449.6M106.83 381.37V379.69M105.03 379.69H108.63M106.83 447.4V449.6M116.45 419.88V413M114.65 413H118.25M116.45 447.4V449.6M135.53 374.32V368.53M133.73 368.53H137.33M135.53 447.4V449.6M145.15 417.28V416.52M143.35 416.52H146.95M145.15 447.4V449.6M154.77 374.32V373.57M152.97 373.57H156.57M154.77 447.4V449.6M164.39 419.71V417.2M162.59 417.2H166.19M164.39 447.4V449.6M183.47 383.8V383.47M181.67 383.47H185.27M183.47 447.4V449.6M193.09 402.51V399.33M191.29 399.33H194.89M193.09 447.4V449.6M202.71 376.84V376.08M200.91 376.08H204.51M202.71 447.4V449.6M212.33 413.84V407.13M210.53 407.13H214.13M212.33 447.4V449.6M231.41 376.08V372.48M229.61 372.48H233.21M231.41 447.4V449.6M241.03 410.48V400.58M239.23 400.58H242.83M241.03 447.4V449.6M250.65 376.08V373.4M248.85 373.4H252.45M250.65 447.4V449.6M260.27 413.5V406.54M258.47 406.54H262.07M260.27 447.4V449.6M82.89 466.7V468.1H121.15V466.7M130.83 466.7V468.1H169.09V466.7M178.77 466.7V468.1H217.03V466.7M226.71 466.7V468.1H264.97V466.7M39.65 413.5V409.39H49.27V432.3M58.89 416.78V412.67H68.51V432.97M87.59 377.26V373.32H97.21V408.97M106.83 376.5V373.32H116.45V410.99M135.53 365.09V361.4H145.15V415.43M154.77 370.38V366.94H164.39V414.26M202.71 373.06V369.71H212.33V405.03M231.41 369.62V365.93H241.03V400M250.65 370.88V367.53H260.27V405.03" stroke="#2b2b2b" stroke-width="0.9" fill="none"/>
<path d="M35.95 444.04H43.35M35.95 445.72H43.35M39.65 445.72V444.72M38.25 444.72H41.05M39.65 444.04V442.37M38.15 442.37H41.15M45.57 444.88H52.97M45.57 445.3H52.97M49.27 444.88V444.04M47.77 444.04H50.77M55.19 441.53H62.59M55.19 444.46H62.59M58.89 444.46V443.12M57.49 443.12H60.29M58.89 441.53V438.67M57.39 438.67H60.39M64.81 444.88H72.21M64.81 445.3H72.21M68.51 444.88V444.04M67.01 444.04H70.01M83.89 440.69H91.29M83.89 444.04H91.29M87.59 444.04V442.7M86.19 442.7H88.99M87.59 440.69V439.51M86.09 439.51H89.09M93.51 440.69H100.91M93.51 443.71H100.91M97.21 443.71V442.37M95.81 442.37H98.61M97.21 440.69V439.85M95.71 439.85H98.71M103.13 438.17H110.53M103.13 443.2H110.53M106.83 443.2V441.86M105.43 441.86H108.23M106.83 438.17V437.33M105.33 437.33H108.33M112.75 440.69H120.15M112.75 444.04H120.15M116.45 444.04V442.7M115.05 442.7H117.85M116.45 440.69V439.85M114.95 439.85H117.95M131.83 433.14H139.23M131.83 436.07H139.23M135.53 436.07V434.73M134.13 434.73H136.93M135.53 433.14V432.3M134.03 432.3H137.03M141.45 437.67H148.85M141.45 440.69H148.85M145.15 440.69V439.35M143.75 439.35H146.55M145.15 437.67V436.49M143.65 436.49H146.65M151.07 436.49H158.47M151.07 440.69H158.47M154.77 440.69V439.35M153.37 439.35H156.17M154.77 436.49V435.65M153.27 435.65H156.27M160.69 438.17H168.09M160.69 442.37H168.09M164.39 442.37V441.02M162.99 441.02H165.79M164.39 438.17V437.33M162.89 437.33H165.89M179.77 438.17H187.17M179.77 442.03H187.17M183.47 442.03V440.69M182.07 440.69H184.87M183.47 438.17V435.65M181.97 435.65H184.97M189.39 435.65H196.79M189.39 439.01H196.79M193.09 439.01V437.67M191.69 437.67H194.49M193.09 435.65V433.14M191.59 433.14H194.59M199.01 433.14H206.41M199.01 438H206.41M202.71 438V436.66M201.31 436.66H204.11M202.71 433.14V429.78M201.21 429.78H204.21M208.63 436.49H216.03M208.63 440.69H216.03M212.33 440.69V439.35M210.93 439.35H213.73M212.33 436.49V434.81M210.83 434.81H213.83M227.71 431.88H235.11M227.71 435.91H235.11M231.41 435.91V434.56M230.01 434.56H232.81M237.33 435.32H244.73M237.33 440.52H244.73M241.03 440.52V439.18M239.63 439.18H242.43M246.95 429.61H254.35M246.95 435.91H254.35M250.65 435.91V434.56M249.25 434.56H252.05M250.65 429.61V428.1M249.15 428.1H252.15M256.57 435.91H263.97M256.57 440.86H263.97M260.27 440.86V439.51M258.87 439.51H261.67M260.27 435.91V434.81M258.77 434.81H261.77" stroke="#111" stroke-width="0.8" fill="none"/>
<path d="M38.85 455.1H40.45M38.85 462.1H40.45M47.87 455.1H50.67M49.27 453.7V456.5M48.47 462.1H50.07M58.09 455.1H59.69M57.49 462.1H60.29M58.89 460.7V463.5M67.11 455.1H69.91M68.51 453.7V456.5M67.11 462.1H69.91M68.51 460.7V463.5M86.79 455.1H88.39M86.79 462.1H88.39M95.81 455.1H98.61M97.21 453.7V456.5M96.41 462.1H98.01M106.03 455.1H107.63M105.43 462.1H108.23M106.83 460.7V463.5M115.05 455.1H117.85M116.45 453.7V456.5M115.05 462.1H117.85M116.45 460.7V463.5M134.73 455.1H136.33M134.73 462.1H136.33M143.75 455.1H146.55M145.15 453.7V456.5M144.35 462.1H145.95M153.97 455.1H155.57M153.37 462.1H156.17M154.77 460.7V463.5M162.99 455.1H165.79M164.39 453.7V456.5M162.99 462.1H165.79M164.39 460.7V463.5M182.67 455.1H184.27M182.67 462.1H184.27M191.69 455.1H194.49M193.09 453.7V456.5M192.29 462.1H193.89M201.91 455.1H203.51M201.31 462.1H204.11M202.71 460.7V463.5M210.93 455.1H213.73M212.33 453.7V456.5M210.93 462.1H213.73M212.33 460.7V463.5M230.61 455.1H232.21M230.61 462.1H232.21M239.63 455.1H242.43M241.03 453.7V456.5M240.23 462.1H241.83M249.85 455.1H251.45M249.25 462.1H252.05M250.65 460.7V463.5M258.87 455.1H261.67M260.27 453.7V456.5M258.87 462.1H261.67M260.27 460.7V463.5" stroke="#111" stroke-width="1.1" fill="none"/>
<rect x="320.8" y="376.8" width="4.6" height="4.6" fill="#a8a8a8" stroke="#444" stroke-width="0.8"/>
<rect x="328.6" y="376.8" width="4.6" height="4.6" fill="#f9d1e3" stroke="#444" stroke-width="0.8"/>
<rect x="336.7" y="376.8" width="4.6" height="4.6" fill="#4fbdcc" stroke="#444" stroke-width="0.8"/>
<text x="343.9" y="380.9" font-size="6.8" fill="#111">Annexin V-DY634<tspan font-size="4.6" dy="-2.9">+</tspan><tspan dy="2.9">/7-AAD</tspan><tspan font-size="4.6" dy="-2.9">+</tspan></text>
<rect x="320.8" y="387.4" width="4.6" height="4.6" fill="#fff" stroke="#444" stroke-width="0.8"/>
<rect x="328.6" y="387.4" width="4.6" height="4.6" fill="#fff" stroke="#444" stroke-width="0.8"/>
<rect x="336.7" y="387.4" width="4.6" height="4.6" fill="#fff" stroke="#444" stroke-width="0.8"/>
<text x="343.9" y="391.5" font-size="6.8" fill="#111">Annexin V-DY634<tspan font-size="4.6" dy="-2.9">-</tspan><tspan dy="2.9">/7-AAD</tspan><tspan font-size="4.6" dy="-2.9">+</tspan></text>
<rect x="320.8" y="398.3" width="4.6" height="4.6" fill="#3a3a3a" stroke="#444" stroke-width="0.8"/>
<rect x="328.6" y="398.3" width="4.6" height="4.6" fill="#e73a88" stroke="#444" stroke-width="0.8"/>
<rect x="336.7" y="398.3" width="4.6" height="4.6" fill="#14877f" stroke="#444" stroke-width="0.8"/>
<text x="343.9" y="403.1" font-size="6.8" fill="#111">Annexin V-DY634<tspan font-size="4.6" dy="-2.9">+</tspan><tspan dy="2.9">/7-AAD</tspan><tspan font-size="4.6" dy="-2.9">-</tspan></text>
</svg></body></html>
